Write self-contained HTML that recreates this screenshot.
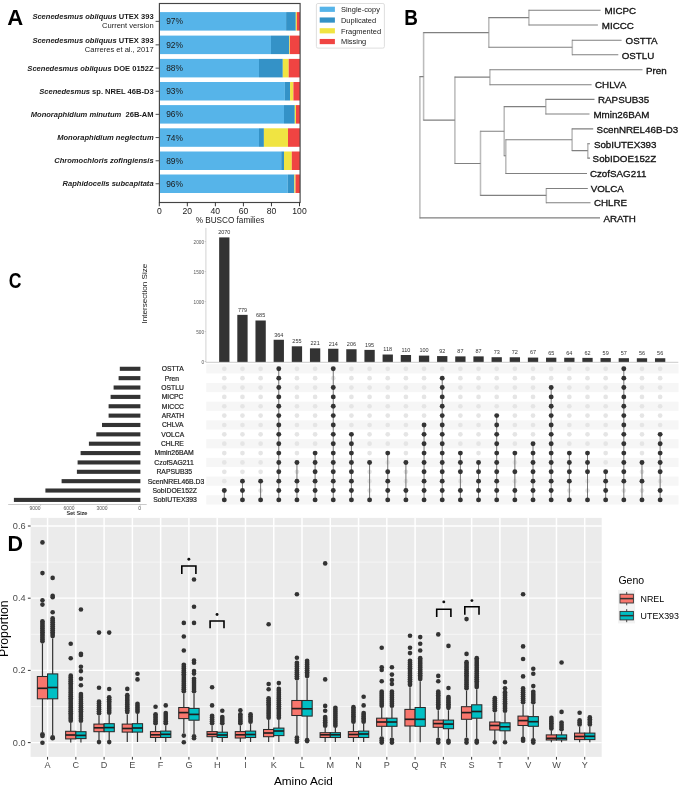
<!DOCTYPE html>
<html><head><meta charset="utf-8"><title>Figure</title>
<style>
html,body{margin:0;padding:0;background:#fff;}
body{width:685px;height:785px;overflow:hidden;}
svg{display:block;font-family:"Liberation Sans", sans-serif;will-change:transform;}
</style></head>
<body>
<svg width="685" height="785" viewBox="0 0 685 785">
<rect width="685" height="785" fill="#fff"/>
<text x="7.35" y="25.10" font-size="22.1" fill="#000" font-weight="bold">A</text>
<rect x="159.8" y="12.10" width="126.30" height="18.5" fill="#56B4E9"/>
<rect x="286.1" y="12.10" width="9.70" height="18.5" fill="#3492C7"/>
<rect x="295.8" y="12.10" width="1.10" height="18.5" fill="#F0E442"/>
<rect x="296.9" y="12.10" width="3.10" height="18.5" fill="#F04442"/>
<text x="166.20" y="24.35" font-size="8.4" fill="#1a1a1a">97%</text>
<line x1="155.6" y1="21.35" x2="159.3" y2="21.35" stroke="#222" stroke-width="0.8"/>
<rect x="159.8" y="35.60" width="111.20" height="18.5" fill="#56B4E9"/>
<rect x="271.0" y="35.60" width="18.20" height="18.5" fill="#3492C7"/>
<rect x="289.2" y="35.60" width="0.70" height="18.5" fill="#F0E442"/>
<rect x="289.9" y="35.60" width="10.10" height="18.5" fill="#F04442"/>
<text x="166.20" y="47.85" font-size="8.4" fill="#1a1a1a">92%</text>
<line x1="155.6" y1="44.85" x2="159.3" y2="44.85" stroke="#222" stroke-width="0.8"/>
<rect x="159.8" y="58.90" width="99.20" height="18.5" fill="#56B4E9"/>
<rect x="259.0" y="58.90" width="23.80" height="18.5" fill="#3492C7"/>
<rect x="282.8" y="58.90" width="5.90" height="18.5" fill="#F0E442"/>
<rect x="288.7" y="58.90" width="11.30" height="18.5" fill="#F04442"/>
<text x="166.20" y="71.15" font-size="8.4" fill="#1a1a1a">88%</text>
<line x1="155.6" y1="68.15" x2="159.3" y2="68.15" stroke="#222" stroke-width="0.8"/>
<rect x="159.8" y="82.00" width="125.10" height="18.5" fill="#56B4E9"/>
<rect x="284.9" y="82.00" width="5.20" height="18.5" fill="#3492C7"/>
<rect x="290.1" y="82.00" width="3.30" height="18.5" fill="#F0E442"/>
<rect x="293.4" y="82.00" width="6.60" height="18.5" fill="#F04442"/>
<text x="166.20" y="94.25" font-size="8.4" fill="#1a1a1a">93%</text>
<line x1="155.6" y1="91.25" x2="159.3" y2="91.25" stroke="#222" stroke-width="0.8"/>
<rect x="159.8" y="105.10" width="124.20" height="18.5" fill="#56B4E9"/>
<rect x="284.0" y="105.10" width="10.80" height="18.5" fill="#3492C7"/>
<rect x="294.8" y="105.10" width="1.20" height="18.5" fill="#F0E442"/>
<rect x="296.0" y="105.10" width="4.00" height="18.5" fill="#F04442"/>
<text x="166.20" y="117.35" font-size="8.4" fill="#1a1a1a">96%</text>
<line x1="155.6" y1="114.35" x2="159.3" y2="114.35" stroke="#222" stroke-width="0.8"/>
<rect x="159.8" y="128.30" width="99.20" height="18.5" fill="#56B4E9"/>
<rect x="259.0" y="128.30" width="4.90" height="18.5" fill="#3492C7"/>
<rect x="263.9" y="128.30" width="24.10" height="18.5" fill="#F0E442"/>
<rect x="288.0" y="128.30" width="12.00" height="18.5" fill="#F04442"/>
<text x="166.20" y="140.55" font-size="8.4" fill="#1a1a1a">74%</text>
<line x1="155.6" y1="137.55" x2="159.3" y2="137.55" stroke="#222" stroke-width="0.8"/>
<rect x="159.8" y="151.50" width="121.40" height="18.5" fill="#56B4E9"/>
<rect x="281.2" y="151.50" width="2.80" height="18.5" fill="#3492C7"/>
<rect x="284.0" y="151.50" width="7.80" height="18.5" fill="#F0E442"/>
<rect x="291.8" y="151.50" width="8.20" height="18.5" fill="#F04442"/>
<text x="166.20" y="163.75" font-size="8.4" fill="#1a1a1a">89%</text>
<line x1="155.6" y1="160.75" x2="159.3" y2="160.75" stroke="#222" stroke-width="0.8"/>
<rect x="159.8" y="174.50" width="128.00" height="18.5" fill="#56B4E9"/>
<rect x="287.8" y="174.50" width="6.60" height="18.5" fill="#3492C7"/>
<rect x="294.4" y="174.50" width="1.10" height="18.5" fill="#F0E442"/>
<rect x="295.5" y="174.50" width="4.50" height="18.5" fill="#F04442"/>
<text x="166.20" y="186.75" font-size="8.4" fill="#1a1a1a">96%</text>
<line x1="155.6" y1="183.75" x2="159.3" y2="183.75" stroke="#222" stroke-width="0.8"/>
<rect x="159.4" y="3.5" width="140.7" height="199.0" fill="none" stroke="#444" stroke-width="1.15"/>
<line x1="159.30" y1="202.5" x2="159.30" y2="206.3" stroke="#222" stroke-width="0.9"/>
<text x="159.30" y="214.20" font-size="8.6" fill="#1a1a1a" text-anchor="middle">0</text>
<line x1="187.34" y1="202.5" x2="187.34" y2="206.3" stroke="#222" stroke-width="0.9"/>
<text x="187.34" y="214.20" font-size="8.6" fill="#1a1a1a" text-anchor="middle">20</text>
<line x1="215.38" y1="202.5" x2="215.38" y2="206.3" stroke="#222" stroke-width="0.9"/>
<text x="215.38" y="214.20" font-size="8.6" fill="#1a1a1a" text-anchor="middle">40</text>
<line x1="243.42" y1="202.5" x2="243.42" y2="206.3" stroke="#222" stroke-width="0.9"/>
<text x="243.42" y="214.20" font-size="8.6" fill="#1a1a1a" text-anchor="middle">60</text>
<line x1="271.46" y1="202.5" x2="271.46" y2="206.3" stroke="#222" stroke-width="0.9"/>
<text x="271.46" y="214.20" font-size="8.6" fill="#1a1a1a" text-anchor="middle">80</text>
<line x1="299.50" y1="202.5" x2="299.50" y2="206.3" stroke="#222" stroke-width="0.9"/>
<text x="299.50" y="214.20" font-size="8.6" fill="#1a1a1a" text-anchor="middle">100</text>
<text x="230.00" y="222.60" font-size="8.2" fill="#1a1a1a" text-anchor="middle">% BUSCO families</text>
<text x="153.6" y="19.00" font-size="7.55" fill="#1a1a1a" text-anchor="end" font-weight="bold" xml:space="preserve"><tspan font-style="italic">Scenedesmus obliquus</tspan> UTEX 393</text>
<text x="153.60" y="28.00" font-size="7.55" fill="#1a1a1a" text-anchor="end">Current version</text>
<text x="153.6" y="43.20" font-size="7.55" fill="#1a1a1a" text-anchor="end" font-weight="bold" xml:space="preserve"><tspan font-style="italic">Scenedesmus obliquus</tspan> UTEX 393</text>
<text x="153.60" y="52.00" font-size="7.55" fill="#1a1a1a" text-anchor="end">Carreres et al., 2017</text>
<text x="153.6" y="70.50" font-size="7.55" fill="#1a1a1a" text-anchor="end" font-weight="bold" xml:space="preserve"><tspan font-style="italic">Scenedesmus obliquus</tspan> DOE 0152Z</text>
<text x="153.6" y="93.60" font-size="7.55" fill="#1a1a1a" text-anchor="end" font-weight="bold" xml:space="preserve"><tspan font-style="italic">Scenedesmus</tspan> sp. NREL 46B-D3</text>
<text x="153.6" y="116.70" font-size="7.55" fill="#1a1a1a" text-anchor="end" font-weight="bold" xml:space="preserve"><tspan font-style="italic">Monoraphidium minutum</tspan>  26B-AM</text>
<text x="153.6" y="139.90" font-size="7.55" fill="#1a1a1a" text-anchor="end" font-weight="bold" xml:space="preserve"><tspan font-style="italic">Monoraphidium neglectum</tspan></text>
<text x="153.6" y="163.10" font-size="7.55" fill="#1a1a1a" text-anchor="end" font-weight="bold" xml:space="preserve"><tspan font-style="italic">Chromochloris zofingiensis</tspan></text>
<text x="153.6" y="186.10" font-size="7.55" fill="#1a1a1a" text-anchor="end" font-weight="bold" xml:space="preserve"><tspan font-style="italic">Raphidocelis subcapitata</tspan></text>
<rect x="316.4" y="3.5" width="68" height="44.6" rx="1.5" fill="#fff" stroke="#d6d6d6" stroke-width="0.8"/>
<rect x="319.7" y="6.70" width="15.2" height="5.2" fill="#56B4E9"/>
<text x="341.00" y="12.00" font-size="7.45" fill="#1a1a1a">Single-copy</text>
<rect x="319.7" y="17.45" width="15.2" height="5.2" fill="#3492C7"/>
<text x="341.00" y="22.75" font-size="7.45" fill="#1a1a1a">Duplicated</text>
<rect x="319.7" y="28.20" width="15.2" height="5.2" fill="#F0E442"/>
<text x="341.00" y="33.50" font-size="7.45" fill="#1a1a1a">Fragmented</text>
<rect x="319.7" y="38.95" width="15.2" height="5.2" fill="#F04442"/>
<text x="341.00" y="44.25" font-size="7.45" fill="#1a1a1a">Missing</text>
<text x="0" y="0" font-size="22.5" font-weight="bold" fill="#000" transform="translate(404.3 25.1) scale(0.84 1)">B</text>
<path d="M419.9 76.1V218.4 M423.6 32.1V120.6 M488.8 17.1V47.8 M528.9 9.8V25.5 M572.3 39.8V55.3 M454.9 76.6V164.0 M489.9 69.3V85.2 M480.5 130.8V195.9 M546.3 188.0V203.2 M504.2 106.1V156.3 M545.8 98.9V114.5 M505.8 139.3V174.0 M572.1 128.4V151.1 M587.8 143.3V158.6" stroke="#bcbcbc" stroke-width="1.55" fill="none"/>
<path d="M419.59999999999997 76.6H423.6 M419.59999999999997 217.9H600.0 M423.3 32.6H488.8 M423.3 120.1H454.9 M488.5 17.6H528.9 M488.5 47.3H572.3 M528.6 10.3H600.6 M528.6 25.0H597.9 M572.0 40.3H621.6 M572.0 54.8H618.3 M454.59999999999997 77.1H489.9 M454.59999999999997 163.5H480.5 M489.59999999999997 69.8H642.5 M489.59999999999997 84.7H591.6 M480.2 131.3H504.2 M480.2 195.4H546.3 M546.0 188.5H587.8 M546.0 202.7H590.5 M503.9 106.6H545.8 M503.9 155.8H505.8 M545.5 99.4H594.5 M545.5 114.0H589.5 M505.5 139.8H572.1 M505.5 173.5H587.0 M571.8000000000001 128.9H593.2 M571.8000000000001 150.6H587.8 M587.5 143.8H590.0 M587.5 158.1H590.0" stroke="#808080" stroke-width="1.1" fill="none"/>
<text x="604.50" y="14.00" font-size="9.8" fill="#111" stroke="#111" stroke-width="0.3">MICPC</text>
<text x="601.80" y="28.70" font-size="9.8" fill="#111" stroke="#111" stroke-width="0.3">MICCC</text>
<text x="625.60" y="44.00" font-size="9.8" fill="#111" stroke="#111" stroke-width="0.3">OSTTA</text>
<text x="621.70" y="58.50" font-size="9.8" fill="#111" stroke="#111" stroke-width="0.3">OSTLU</text>
<text x="645.90" y="73.50" font-size="9.8" fill="#111" stroke="#111" stroke-width="0.3">Pren</text>
<text x="595.00" y="88.40" font-size="9.8" fill="#111" stroke="#111" stroke-width="0.3">CHLVA</text>
<text x="598.00" y="103.10" font-size="9.8" fill="#111" stroke="#111" stroke-width="0.3">RAPSUB35</text>
<text x="593.40" y="117.70" font-size="9.8" fill="#111" stroke="#111" stroke-width="0.3">Mmin26BAM</text>
<text x="596.60" y="132.60" font-size="9.8" fill="#111" stroke="#111" stroke-width="0.3">ScenNREL46B-D3</text>
<text x="593.90" y="147.50" font-size="9.8" fill="#111" stroke="#111" stroke-width="0.3">SobIUTEX393</text>
<text x="592.60" y="161.80" font-size="9.8" fill="#111" stroke="#111" stroke-width="0.3">SobIDOE152Z</text>
<text x="589.90" y="177.20" font-size="9.8" fill="#111" stroke="#111" stroke-width="0.3">CzofSAG211</text>
<text x="590.70" y="192.20" font-size="9.8" fill="#111" stroke="#111" stroke-width="0.3">VOLCA</text>
<text x="593.90" y="206.40" font-size="9.8" fill="#111" stroke="#111" stroke-width="0.3">CHLRE</text>
<text x="603.40" y="221.60" font-size="9.8" fill="#111" stroke="#111" stroke-width="0.3">ARATH</text>
<text x="0" y="0" font-size="22.6" font-weight="bold" fill="#000" transform="translate(8.7 288.1) scale(0.78 1)">C</text>
<line x1="205.9" y1="227.9" x2="205.9" y2="362.0" stroke="#c8c8c8" stroke-width="0.8"/>
<line x1="204.6" y1="361.60" x2="205.9" y2="361.60" stroke="#aaa" stroke-width="0.6"/>
<text x="0" y="0" font-size="5.6" fill="#555" text-anchor="end" transform="translate(204.00 363.55) scale(0.84 1)">0</text>
<line x1="204.6" y1="331.60" x2="205.9" y2="331.60" stroke="#aaa" stroke-width="0.6"/>
<text x="0" y="0" font-size="5.6" fill="#555" text-anchor="end" transform="translate(204.00 333.55) scale(0.84 1)">500</text>
<line x1="204.6" y1="301.60" x2="205.9" y2="301.60" stroke="#aaa" stroke-width="0.6"/>
<text x="0" y="0" font-size="5.6" fill="#555" text-anchor="end" transform="translate(204.00 303.55) scale(0.84 1)">1000</text>
<line x1="204.6" y1="271.60" x2="205.9" y2="271.60" stroke="#aaa" stroke-width="0.6"/>
<text x="0" y="0" font-size="5.6" fill="#555" text-anchor="end" transform="translate(204.00 273.55) scale(0.84 1)">1500</text>
<line x1="204.6" y1="241.60" x2="205.9" y2="241.60" stroke="#aaa" stroke-width="0.6"/>
<text x="0" y="0" font-size="5.6" fill="#555" text-anchor="end" transform="translate(204.00 243.55) scale(0.84 1)">2000</text>
<text x="0" y="0" font-size="8.1" fill="#222" text-anchor="middle" transform="translate(147.4 293.6) rotate(-90)">Intersection Size</text>
<rect x="219.15" y="237.40" width="10.3" height="124.70" fill="#333"/>
<text x="0" y="0" font-size="6.1" fill="#333" text-anchor="middle" transform="translate(224.30 234.20) scale(0.9 1)">2070</text>
<rect x="237.31" y="314.86" width="10.3" height="47.24" fill="#333"/>
<text x="0" y="0" font-size="6.1" fill="#333" text-anchor="middle" transform="translate(242.46 311.66) scale(0.9 1)">779</text>
<rect x="255.47" y="320.50" width="10.3" height="41.60" fill="#333"/>
<text x="0" y="0" font-size="6.1" fill="#333" text-anchor="middle" transform="translate(260.62 317.30) scale(0.9 1)">685</text>
<rect x="273.63" y="339.76" width="10.3" height="22.34" fill="#333"/>
<text x="0" y="0" font-size="6.1" fill="#333" text-anchor="middle" transform="translate(278.78 336.56) scale(0.9 1)">364</text>
<rect x="291.79" y="346.30" width="10.3" height="15.80" fill="#333"/>
<text x="0" y="0" font-size="6.1" fill="#333" text-anchor="middle" transform="translate(296.94 343.10) scale(0.9 1)">255</text>
<rect x="309.95" y="348.34" width="10.3" height="13.76" fill="#333"/>
<text x="0" y="0" font-size="6.1" fill="#333" text-anchor="middle" transform="translate(315.10 345.14) scale(0.9 1)">221</text>
<rect x="328.11" y="348.76" width="10.3" height="13.34" fill="#333"/>
<text x="0" y="0" font-size="6.1" fill="#333" text-anchor="middle" transform="translate(333.26 345.56) scale(0.9 1)">214</text>
<rect x="346.27" y="349.24" width="10.3" height="12.86" fill="#333"/>
<text x="0" y="0" font-size="6.1" fill="#333" text-anchor="middle" transform="translate(351.42 346.04) scale(0.9 1)">206</text>
<rect x="364.43" y="349.90" width="10.3" height="12.20" fill="#333"/>
<text x="0" y="0" font-size="6.1" fill="#333" text-anchor="middle" transform="translate(369.58 346.70) scale(0.9 1)">195</text>
<rect x="382.59" y="354.52" width="10.3" height="7.58" fill="#333"/>
<text x="0" y="0" font-size="6.1" fill="#333" text-anchor="middle" transform="translate(387.74 351.32) scale(0.9 1)">118</text>
<rect x="400.75" y="355.00" width="10.3" height="7.10" fill="#333"/>
<text x="0" y="0" font-size="6.1" fill="#333" text-anchor="middle" transform="translate(405.90 351.80) scale(0.9 1)">110</text>
<rect x="418.91" y="355.60" width="10.3" height="6.50" fill="#333"/>
<text x="0" y="0" font-size="6.1" fill="#333" text-anchor="middle" transform="translate(424.06 352.40) scale(0.9 1)">100</text>
<rect x="437.07" y="356.08" width="10.3" height="6.02" fill="#333"/>
<text x="0" y="0" font-size="6.1" fill="#333" text-anchor="middle" transform="translate(442.22 352.88) scale(0.9 1)">92</text>
<rect x="455.23" y="356.38" width="10.3" height="5.72" fill="#333"/>
<text x="0" y="0" font-size="6.1" fill="#333" text-anchor="middle" transform="translate(460.38 353.18) scale(0.9 1)">87</text>
<rect x="473.39" y="356.38" width="10.3" height="5.72" fill="#333"/>
<text x="0" y="0" font-size="6.1" fill="#333" text-anchor="middle" transform="translate(478.54 353.18) scale(0.9 1)">87</text>
<rect x="491.55" y="357.22" width="10.3" height="4.88" fill="#333"/>
<text x="0" y="0" font-size="6.1" fill="#333" text-anchor="middle" transform="translate(496.70 354.02) scale(0.9 1)">73</text>
<rect x="509.71" y="357.28" width="10.3" height="4.82" fill="#333"/>
<text x="0" y="0" font-size="6.1" fill="#333" text-anchor="middle" transform="translate(514.86 354.08) scale(0.9 1)">72</text>
<rect x="527.87" y="357.58" width="10.3" height="4.52" fill="#333"/>
<text x="0" y="0" font-size="6.1" fill="#333" text-anchor="middle" transform="translate(533.02 354.38) scale(0.9 1)">67</text>
<rect x="546.03" y="357.70" width="10.3" height="4.40" fill="#333"/>
<text x="0" y="0" font-size="6.1" fill="#333" text-anchor="middle" transform="translate(551.18 354.50) scale(0.9 1)">65</text>
<rect x="564.19" y="357.76" width="10.3" height="4.34" fill="#333"/>
<text x="0" y="0" font-size="6.1" fill="#333" text-anchor="middle" transform="translate(569.34 354.56) scale(0.9 1)">64</text>
<rect x="582.35" y="357.88" width="10.3" height="4.22" fill="#333"/>
<text x="0" y="0" font-size="6.1" fill="#333" text-anchor="middle" transform="translate(587.50 354.68) scale(0.9 1)">62</text>
<rect x="600.51" y="358.06" width="10.3" height="4.04" fill="#333"/>
<text x="0" y="0" font-size="6.1" fill="#333" text-anchor="middle" transform="translate(605.66 354.86) scale(0.9 1)">59</text>
<rect x="618.67" y="358.18" width="10.3" height="3.92" fill="#333"/>
<text x="0" y="0" font-size="6.1" fill="#333" text-anchor="middle" transform="translate(623.82 354.98) scale(0.9 1)">57</text>
<rect x="636.83" y="358.24" width="10.3" height="3.86" fill="#333"/>
<text x="0" y="0" font-size="6.1" fill="#333" text-anchor="middle" transform="translate(641.98 355.04) scale(0.9 1)">56</text>
<rect x="654.99" y="358.24" width="10.3" height="3.86" fill="#333"/>
<text x="0" y="0" font-size="6.1" fill="#333" text-anchor="middle" transform="translate(660.14 355.04) scale(0.9 1)">56</text>
<line x1="205.9" y1="362.3" x2="678.3" y2="362.3" stroke="#bdbdbd" stroke-width="0.8"/>
<rect x="206.3" y="364.20" width="472.2" height="9.2" fill="#f6f6f6"/>
<rect x="206.3" y="382.93" width="472.2" height="9.2" fill="#f6f6f6"/>
<rect x="206.3" y="401.66" width="472.2" height="9.2" fill="#f6f6f6"/>
<rect x="206.3" y="420.38" width="472.2" height="9.2" fill="#f6f6f6"/>
<rect x="206.3" y="439.11" width="472.2" height="9.2" fill="#f6f6f6"/>
<rect x="206.3" y="457.84" width="472.2" height="9.2" fill="#f6f6f6"/>
<rect x="206.3" y="476.57" width="472.2" height="9.2" fill="#f6f6f6"/>
<rect x="206.3" y="495.30" width="472.2" height="9.2" fill="#f6f6f6"/>
<circle cx="224.30" cy="368.80" r="2.35" fill="#e5e5e5"/>
<circle cx="224.30" cy="378.16" r="2.35" fill="#e5e5e5"/>
<circle cx="224.30" cy="387.53" r="2.35" fill="#e5e5e5"/>
<circle cx="224.30" cy="396.89" r="2.35" fill="#e5e5e5"/>
<circle cx="224.30" cy="406.26" r="2.35" fill="#e5e5e5"/>
<circle cx="224.30" cy="415.62" r="2.35" fill="#e5e5e5"/>
<circle cx="224.30" cy="424.98" r="2.35" fill="#e5e5e5"/>
<circle cx="224.30" cy="434.35" r="2.35" fill="#e5e5e5"/>
<circle cx="224.30" cy="443.71" r="2.35" fill="#e5e5e5"/>
<circle cx="224.30" cy="453.08" r="2.35" fill="#e5e5e5"/>
<circle cx="224.30" cy="462.44" r="2.35" fill="#e5e5e5"/>
<circle cx="224.30" cy="471.80" r="2.35" fill="#e5e5e5"/>
<circle cx="224.30" cy="481.17" r="2.35" fill="#e5e5e5"/>
<line x1="224.30" y1="490.53" x2="224.30" y2="499.90" stroke="#555" stroke-width="0.8"/>
<circle cx="224.30" cy="490.53" r="2.45" fill="#333"/>
<circle cx="224.30" cy="499.90" r="2.45" fill="#333"/>
<circle cx="242.46" cy="368.80" r="2.35" fill="#e5e5e5"/>
<circle cx="242.46" cy="378.16" r="2.35" fill="#e5e5e5"/>
<circle cx="242.46" cy="387.53" r="2.35" fill="#e5e5e5"/>
<circle cx="242.46" cy="396.89" r="2.35" fill="#e5e5e5"/>
<circle cx="242.46" cy="406.26" r="2.35" fill="#e5e5e5"/>
<circle cx="242.46" cy="415.62" r="2.35" fill="#e5e5e5"/>
<circle cx="242.46" cy="424.98" r="2.35" fill="#e5e5e5"/>
<circle cx="242.46" cy="434.35" r="2.35" fill="#e5e5e5"/>
<circle cx="242.46" cy="443.71" r="2.35" fill="#e5e5e5"/>
<circle cx="242.46" cy="453.08" r="2.35" fill="#e5e5e5"/>
<circle cx="242.46" cy="462.44" r="2.35" fill="#e5e5e5"/>
<circle cx="242.46" cy="471.80" r="2.35" fill="#e5e5e5"/>
<line x1="242.46" y1="481.17" x2="242.46" y2="499.90" stroke="#555" stroke-width="0.8"/>
<circle cx="242.46" cy="481.17" r="2.45" fill="#333"/>
<circle cx="242.46" cy="490.53" r="2.45" fill="#333"/>
<circle cx="242.46" cy="499.90" r="2.45" fill="#333"/>
<circle cx="260.62" cy="368.80" r="2.35" fill="#e5e5e5"/>
<circle cx="260.62" cy="378.16" r="2.35" fill="#e5e5e5"/>
<circle cx="260.62" cy="387.53" r="2.35" fill="#e5e5e5"/>
<circle cx="260.62" cy="396.89" r="2.35" fill="#e5e5e5"/>
<circle cx="260.62" cy="406.26" r="2.35" fill="#e5e5e5"/>
<circle cx="260.62" cy="415.62" r="2.35" fill="#e5e5e5"/>
<circle cx="260.62" cy="424.98" r="2.35" fill="#e5e5e5"/>
<circle cx="260.62" cy="434.35" r="2.35" fill="#e5e5e5"/>
<circle cx="260.62" cy="443.71" r="2.35" fill="#e5e5e5"/>
<circle cx="260.62" cy="453.08" r="2.35" fill="#e5e5e5"/>
<circle cx="260.62" cy="462.44" r="2.35" fill="#e5e5e5"/>
<circle cx="260.62" cy="471.80" r="2.35" fill="#e5e5e5"/>
<circle cx="260.62" cy="490.53" r="2.35" fill="#e5e5e5"/>
<line x1="260.62" y1="481.17" x2="260.62" y2="499.90" stroke="#555" stroke-width="0.8"/>
<circle cx="260.62" cy="481.17" r="2.45" fill="#333"/>
<circle cx="260.62" cy="499.90" r="2.45" fill="#333"/>
<line x1="278.78" y1="368.80" x2="278.78" y2="499.90" stroke="#555" stroke-width="0.8"/>
<circle cx="278.78" cy="368.80" r="2.45" fill="#333"/>
<circle cx="278.78" cy="378.16" r="2.45" fill="#333"/>
<circle cx="278.78" cy="387.53" r="2.45" fill="#333"/>
<circle cx="278.78" cy="396.89" r="2.45" fill="#333"/>
<circle cx="278.78" cy="406.26" r="2.45" fill="#333"/>
<circle cx="278.78" cy="415.62" r="2.45" fill="#333"/>
<circle cx="278.78" cy="424.98" r="2.45" fill="#333"/>
<circle cx="278.78" cy="434.35" r="2.45" fill="#333"/>
<circle cx="278.78" cy="443.71" r="2.45" fill="#333"/>
<circle cx="278.78" cy="453.08" r="2.45" fill="#333"/>
<circle cx="278.78" cy="462.44" r="2.45" fill="#333"/>
<circle cx="278.78" cy="471.80" r="2.45" fill="#333"/>
<circle cx="278.78" cy="481.17" r="2.45" fill="#333"/>
<circle cx="278.78" cy="490.53" r="2.45" fill="#333"/>
<circle cx="278.78" cy="499.90" r="2.45" fill="#333"/>
<circle cx="296.94" cy="368.80" r="2.35" fill="#e5e5e5"/>
<circle cx="296.94" cy="378.16" r="2.35" fill="#e5e5e5"/>
<circle cx="296.94" cy="387.53" r="2.35" fill="#e5e5e5"/>
<circle cx="296.94" cy="396.89" r="2.35" fill="#e5e5e5"/>
<circle cx="296.94" cy="406.26" r="2.35" fill="#e5e5e5"/>
<circle cx="296.94" cy="415.62" r="2.35" fill="#e5e5e5"/>
<circle cx="296.94" cy="424.98" r="2.35" fill="#e5e5e5"/>
<circle cx="296.94" cy="434.35" r="2.35" fill="#e5e5e5"/>
<circle cx="296.94" cy="443.71" r="2.35" fill="#e5e5e5"/>
<circle cx="296.94" cy="453.08" r="2.35" fill="#e5e5e5"/>
<circle cx="296.94" cy="471.80" r="2.35" fill="#e5e5e5"/>
<line x1="296.94" y1="462.44" x2="296.94" y2="499.90" stroke="#555" stroke-width="0.8"/>
<circle cx="296.94" cy="462.44" r="2.45" fill="#333"/>
<circle cx="296.94" cy="481.17" r="2.45" fill="#333"/>
<circle cx="296.94" cy="490.53" r="2.45" fill="#333"/>
<circle cx="296.94" cy="499.90" r="2.45" fill="#333"/>
<circle cx="315.10" cy="368.80" r="2.35" fill="#e5e5e5"/>
<circle cx="315.10" cy="378.16" r="2.35" fill="#e5e5e5"/>
<circle cx="315.10" cy="387.53" r="2.35" fill="#e5e5e5"/>
<circle cx="315.10" cy="396.89" r="2.35" fill="#e5e5e5"/>
<circle cx="315.10" cy="406.26" r="2.35" fill="#e5e5e5"/>
<circle cx="315.10" cy="415.62" r="2.35" fill="#e5e5e5"/>
<circle cx="315.10" cy="424.98" r="2.35" fill="#e5e5e5"/>
<circle cx="315.10" cy="434.35" r="2.35" fill="#e5e5e5"/>
<circle cx="315.10" cy="443.71" r="2.35" fill="#e5e5e5"/>
<line x1="315.10" y1="453.08" x2="315.10" y2="499.90" stroke="#555" stroke-width="0.8"/>
<circle cx="315.10" cy="453.08" r="2.45" fill="#333"/>
<circle cx="315.10" cy="462.44" r="2.45" fill="#333"/>
<circle cx="315.10" cy="471.80" r="2.45" fill="#333"/>
<circle cx="315.10" cy="481.17" r="2.45" fill="#333"/>
<circle cx="315.10" cy="490.53" r="2.45" fill="#333"/>
<circle cx="315.10" cy="499.90" r="2.45" fill="#333"/>
<circle cx="333.26" cy="378.16" r="2.35" fill="#e5e5e5"/>
<line x1="333.26" y1="368.80" x2="333.26" y2="499.90" stroke="#555" stroke-width="0.8"/>
<circle cx="333.26" cy="368.80" r="2.45" fill="#333"/>
<circle cx="333.26" cy="387.53" r="2.45" fill="#333"/>
<circle cx="333.26" cy="396.89" r="2.45" fill="#333"/>
<circle cx="333.26" cy="406.26" r="2.45" fill="#333"/>
<circle cx="333.26" cy="415.62" r="2.45" fill="#333"/>
<circle cx="333.26" cy="424.98" r="2.45" fill="#333"/>
<circle cx="333.26" cy="434.35" r="2.45" fill="#333"/>
<circle cx="333.26" cy="443.71" r="2.45" fill="#333"/>
<circle cx="333.26" cy="453.08" r="2.45" fill="#333"/>
<circle cx="333.26" cy="462.44" r="2.45" fill="#333"/>
<circle cx="333.26" cy="471.80" r="2.45" fill="#333"/>
<circle cx="333.26" cy="481.17" r="2.45" fill="#333"/>
<circle cx="333.26" cy="490.53" r="2.45" fill="#333"/>
<circle cx="333.26" cy="499.90" r="2.45" fill="#333"/>
<circle cx="351.42" cy="368.80" r="2.35" fill="#e5e5e5"/>
<circle cx="351.42" cy="378.16" r="2.35" fill="#e5e5e5"/>
<circle cx="351.42" cy="387.53" r="2.35" fill="#e5e5e5"/>
<circle cx="351.42" cy="396.89" r="2.35" fill="#e5e5e5"/>
<circle cx="351.42" cy="406.26" r="2.35" fill="#e5e5e5"/>
<circle cx="351.42" cy="415.62" r="2.35" fill="#e5e5e5"/>
<circle cx="351.42" cy="424.98" r="2.35" fill="#e5e5e5"/>
<line x1="351.42" y1="434.35" x2="351.42" y2="499.90" stroke="#555" stroke-width="0.8"/>
<circle cx="351.42" cy="434.35" r="2.45" fill="#333"/>
<circle cx="351.42" cy="443.71" r="2.45" fill="#333"/>
<circle cx="351.42" cy="453.08" r="2.45" fill="#333"/>
<circle cx="351.42" cy="462.44" r="2.45" fill="#333"/>
<circle cx="351.42" cy="471.80" r="2.45" fill="#333"/>
<circle cx="351.42" cy="481.17" r="2.45" fill="#333"/>
<circle cx="351.42" cy="490.53" r="2.45" fill="#333"/>
<circle cx="351.42" cy="499.90" r="2.45" fill="#333"/>
<circle cx="369.58" cy="368.80" r="2.35" fill="#e5e5e5"/>
<circle cx="369.58" cy="378.16" r="2.35" fill="#e5e5e5"/>
<circle cx="369.58" cy="387.53" r="2.35" fill="#e5e5e5"/>
<circle cx="369.58" cy="396.89" r="2.35" fill="#e5e5e5"/>
<circle cx="369.58" cy="406.26" r="2.35" fill="#e5e5e5"/>
<circle cx="369.58" cy="415.62" r="2.35" fill="#e5e5e5"/>
<circle cx="369.58" cy="424.98" r="2.35" fill="#e5e5e5"/>
<circle cx="369.58" cy="434.35" r="2.35" fill="#e5e5e5"/>
<circle cx="369.58" cy="443.71" r="2.35" fill="#e5e5e5"/>
<circle cx="369.58" cy="453.08" r="2.35" fill="#e5e5e5"/>
<circle cx="369.58" cy="471.80" r="2.35" fill="#e5e5e5"/>
<circle cx="369.58" cy="481.17" r="2.35" fill="#e5e5e5"/>
<circle cx="369.58" cy="490.53" r="2.35" fill="#e5e5e5"/>
<line x1="369.58" y1="462.44" x2="369.58" y2="499.90" stroke="#555" stroke-width="0.8"/>
<circle cx="369.58" cy="462.44" r="2.45" fill="#333"/>
<circle cx="369.58" cy="499.90" r="2.45" fill="#333"/>
<circle cx="387.74" cy="368.80" r="2.35" fill="#e5e5e5"/>
<circle cx="387.74" cy="378.16" r="2.35" fill="#e5e5e5"/>
<circle cx="387.74" cy="387.53" r="2.35" fill="#e5e5e5"/>
<circle cx="387.74" cy="396.89" r="2.35" fill="#e5e5e5"/>
<circle cx="387.74" cy="406.26" r="2.35" fill="#e5e5e5"/>
<circle cx="387.74" cy="415.62" r="2.35" fill="#e5e5e5"/>
<circle cx="387.74" cy="424.98" r="2.35" fill="#e5e5e5"/>
<circle cx="387.74" cy="434.35" r="2.35" fill="#e5e5e5"/>
<circle cx="387.74" cy="443.71" r="2.35" fill="#e5e5e5"/>
<circle cx="387.74" cy="462.44" r="2.35" fill="#e5e5e5"/>
<line x1="387.74" y1="453.08" x2="387.74" y2="499.90" stroke="#555" stroke-width="0.8"/>
<circle cx="387.74" cy="453.08" r="2.45" fill="#333"/>
<circle cx="387.74" cy="471.80" r="2.45" fill="#333"/>
<circle cx="387.74" cy="481.17" r="2.45" fill="#333"/>
<circle cx="387.74" cy="490.53" r="2.45" fill="#333"/>
<circle cx="387.74" cy="499.90" r="2.45" fill="#333"/>
<circle cx="405.90" cy="368.80" r="2.35" fill="#e5e5e5"/>
<circle cx="405.90" cy="378.16" r="2.35" fill="#e5e5e5"/>
<circle cx="405.90" cy="387.53" r="2.35" fill="#e5e5e5"/>
<circle cx="405.90" cy="396.89" r="2.35" fill="#e5e5e5"/>
<circle cx="405.90" cy="406.26" r="2.35" fill="#e5e5e5"/>
<circle cx="405.90" cy="415.62" r="2.35" fill="#e5e5e5"/>
<circle cx="405.90" cy="424.98" r="2.35" fill="#e5e5e5"/>
<circle cx="405.90" cy="434.35" r="2.35" fill="#e5e5e5"/>
<circle cx="405.90" cy="443.71" r="2.35" fill="#e5e5e5"/>
<circle cx="405.90" cy="453.08" r="2.35" fill="#e5e5e5"/>
<circle cx="405.90" cy="471.80" r="2.35" fill="#e5e5e5"/>
<circle cx="405.90" cy="481.17" r="2.35" fill="#e5e5e5"/>
<line x1="405.90" y1="462.44" x2="405.90" y2="499.90" stroke="#555" stroke-width="0.8"/>
<circle cx="405.90" cy="462.44" r="2.45" fill="#333"/>
<circle cx="405.90" cy="490.53" r="2.45" fill="#333"/>
<circle cx="405.90" cy="499.90" r="2.45" fill="#333"/>
<circle cx="424.06" cy="368.80" r="2.35" fill="#e5e5e5"/>
<circle cx="424.06" cy="378.16" r="2.35" fill="#e5e5e5"/>
<circle cx="424.06" cy="387.53" r="2.35" fill="#e5e5e5"/>
<circle cx="424.06" cy="396.89" r="2.35" fill="#e5e5e5"/>
<circle cx="424.06" cy="406.26" r="2.35" fill="#e5e5e5"/>
<circle cx="424.06" cy="415.62" r="2.35" fill="#e5e5e5"/>
<line x1="424.06" y1="424.98" x2="424.06" y2="499.90" stroke="#555" stroke-width="0.8"/>
<circle cx="424.06" cy="424.98" r="2.45" fill="#333"/>
<circle cx="424.06" cy="434.35" r="2.45" fill="#333"/>
<circle cx="424.06" cy="443.71" r="2.45" fill="#333"/>
<circle cx="424.06" cy="453.08" r="2.45" fill="#333"/>
<circle cx="424.06" cy="462.44" r="2.45" fill="#333"/>
<circle cx="424.06" cy="471.80" r="2.45" fill="#333"/>
<circle cx="424.06" cy="481.17" r="2.45" fill="#333"/>
<circle cx="424.06" cy="490.53" r="2.45" fill="#333"/>
<circle cx="424.06" cy="499.90" r="2.45" fill="#333"/>
<circle cx="442.22" cy="368.80" r="2.35" fill="#e5e5e5"/>
<line x1="442.22" y1="378.16" x2="442.22" y2="499.90" stroke="#555" stroke-width="0.8"/>
<circle cx="442.22" cy="378.16" r="2.45" fill="#333"/>
<circle cx="442.22" cy="387.53" r="2.45" fill="#333"/>
<circle cx="442.22" cy="396.89" r="2.45" fill="#333"/>
<circle cx="442.22" cy="406.26" r="2.45" fill="#333"/>
<circle cx="442.22" cy="415.62" r="2.45" fill="#333"/>
<circle cx="442.22" cy="424.98" r="2.45" fill="#333"/>
<circle cx="442.22" cy="434.35" r="2.45" fill="#333"/>
<circle cx="442.22" cy="443.71" r="2.45" fill="#333"/>
<circle cx="442.22" cy="453.08" r="2.45" fill="#333"/>
<circle cx="442.22" cy="462.44" r="2.45" fill="#333"/>
<circle cx="442.22" cy="471.80" r="2.45" fill="#333"/>
<circle cx="442.22" cy="481.17" r="2.45" fill="#333"/>
<circle cx="442.22" cy="490.53" r="2.45" fill="#333"/>
<circle cx="442.22" cy="499.90" r="2.45" fill="#333"/>
<circle cx="460.38" cy="368.80" r="2.35" fill="#e5e5e5"/>
<circle cx="460.38" cy="378.16" r="2.35" fill="#e5e5e5"/>
<circle cx="460.38" cy="387.53" r="2.35" fill="#e5e5e5"/>
<circle cx="460.38" cy="396.89" r="2.35" fill="#e5e5e5"/>
<circle cx="460.38" cy="406.26" r="2.35" fill="#e5e5e5"/>
<circle cx="460.38" cy="415.62" r="2.35" fill="#e5e5e5"/>
<circle cx="460.38" cy="424.98" r="2.35" fill="#e5e5e5"/>
<circle cx="460.38" cy="434.35" r="2.35" fill="#e5e5e5"/>
<circle cx="460.38" cy="443.71" r="2.35" fill="#e5e5e5"/>
<circle cx="460.38" cy="481.17" r="2.35" fill="#e5e5e5"/>
<line x1="460.38" y1="453.08" x2="460.38" y2="499.90" stroke="#555" stroke-width="0.8"/>
<circle cx="460.38" cy="453.08" r="2.45" fill="#333"/>
<circle cx="460.38" cy="462.44" r="2.45" fill="#333"/>
<circle cx="460.38" cy="471.80" r="2.45" fill="#333"/>
<circle cx="460.38" cy="490.53" r="2.45" fill="#333"/>
<circle cx="460.38" cy="499.90" r="2.45" fill="#333"/>
<circle cx="478.54" cy="368.80" r="2.35" fill="#e5e5e5"/>
<circle cx="478.54" cy="378.16" r="2.35" fill="#e5e5e5"/>
<circle cx="478.54" cy="387.53" r="2.35" fill="#e5e5e5"/>
<circle cx="478.54" cy="396.89" r="2.35" fill="#e5e5e5"/>
<circle cx="478.54" cy="406.26" r="2.35" fill="#e5e5e5"/>
<circle cx="478.54" cy="415.62" r="2.35" fill="#e5e5e5"/>
<circle cx="478.54" cy="424.98" r="2.35" fill="#e5e5e5"/>
<circle cx="478.54" cy="434.35" r="2.35" fill="#e5e5e5"/>
<circle cx="478.54" cy="443.71" r="2.35" fill="#e5e5e5"/>
<circle cx="478.54" cy="453.08" r="2.35" fill="#e5e5e5"/>
<line x1="478.54" y1="462.44" x2="478.54" y2="499.90" stroke="#555" stroke-width="0.8"/>
<circle cx="478.54" cy="462.44" r="2.45" fill="#333"/>
<circle cx="478.54" cy="471.80" r="2.45" fill="#333"/>
<circle cx="478.54" cy="481.17" r="2.45" fill="#333"/>
<circle cx="478.54" cy="490.53" r="2.45" fill="#333"/>
<circle cx="478.54" cy="499.90" r="2.45" fill="#333"/>
<circle cx="496.70" cy="368.80" r="2.35" fill="#e5e5e5"/>
<circle cx="496.70" cy="378.16" r="2.35" fill="#e5e5e5"/>
<circle cx="496.70" cy="387.53" r="2.35" fill="#e5e5e5"/>
<circle cx="496.70" cy="396.89" r="2.35" fill="#e5e5e5"/>
<circle cx="496.70" cy="406.26" r="2.35" fill="#e5e5e5"/>
<line x1="496.70" y1="415.62" x2="496.70" y2="499.90" stroke="#555" stroke-width="0.8"/>
<circle cx="496.70" cy="415.62" r="2.45" fill="#333"/>
<circle cx="496.70" cy="424.98" r="2.45" fill="#333"/>
<circle cx="496.70" cy="434.35" r="2.45" fill="#333"/>
<circle cx="496.70" cy="443.71" r="2.45" fill="#333"/>
<circle cx="496.70" cy="453.08" r="2.45" fill="#333"/>
<circle cx="496.70" cy="462.44" r="2.45" fill="#333"/>
<circle cx="496.70" cy="471.80" r="2.45" fill="#333"/>
<circle cx="496.70" cy="481.17" r="2.45" fill="#333"/>
<circle cx="496.70" cy="490.53" r="2.45" fill="#333"/>
<circle cx="496.70" cy="499.90" r="2.45" fill="#333"/>
<circle cx="514.86" cy="368.80" r="2.35" fill="#e5e5e5"/>
<circle cx="514.86" cy="378.16" r="2.35" fill="#e5e5e5"/>
<circle cx="514.86" cy="387.53" r="2.35" fill="#e5e5e5"/>
<circle cx="514.86" cy="396.89" r="2.35" fill="#e5e5e5"/>
<circle cx="514.86" cy="406.26" r="2.35" fill="#e5e5e5"/>
<circle cx="514.86" cy="415.62" r="2.35" fill="#e5e5e5"/>
<circle cx="514.86" cy="424.98" r="2.35" fill="#e5e5e5"/>
<circle cx="514.86" cy="434.35" r="2.35" fill="#e5e5e5"/>
<circle cx="514.86" cy="443.71" r="2.35" fill="#e5e5e5"/>
<circle cx="514.86" cy="462.44" r="2.35" fill="#e5e5e5"/>
<circle cx="514.86" cy="481.17" r="2.35" fill="#e5e5e5"/>
<line x1="514.86" y1="453.08" x2="514.86" y2="499.90" stroke="#555" stroke-width="0.8"/>
<circle cx="514.86" cy="453.08" r="2.45" fill="#333"/>
<circle cx="514.86" cy="471.80" r="2.45" fill="#333"/>
<circle cx="514.86" cy="490.53" r="2.45" fill="#333"/>
<circle cx="514.86" cy="499.90" r="2.45" fill="#333"/>
<circle cx="533.02" cy="368.80" r="2.35" fill="#e5e5e5"/>
<circle cx="533.02" cy="378.16" r="2.35" fill="#e5e5e5"/>
<circle cx="533.02" cy="387.53" r="2.35" fill="#e5e5e5"/>
<circle cx="533.02" cy="396.89" r="2.35" fill="#e5e5e5"/>
<circle cx="533.02" cy="406.26" r="2.35" fill="#e5e5e5"/>
<circle cx="533.02" cy="415.62" r="2.35" fill="#e5e5e5"/>
<circle cx="533.02" cy="424.98" r="2.35" fill="#e5e5e5"/>
<circle cx="533.02" cy="434.35" r="2.35" fill="#e5e5e5"/>
<line x1="533.02" y1="443.71" x2="533.02" y2="499.90" stroke="#555" stroke-width="0.8"/>
<circle cx="533.02" cy="443.71" r="2.45" fill="#333"/>
<circle cx="533.02" cy="453.08" r="2.45" fill="#333"/>
<circle cx="533.02" cy="462.44" r="2.45" fill="#333"/>
<circle cx="533.02" cy="471.80" r="2.45" fill="#333"/>
<circle cx="533.02" cy="481.17" r="2.45" fill="#333"/>
<circle cx="533.02" cy="490.53" r="2.45" fill="#333"/>
<circle cx="533.02" cy="499.90" r="2.45" fill="#333"/>
<circle cx="551.18" cy="368.80" r="2.35" fill="#e5e5e5"/>
<circle cx="551.18" cy="378.16" r="2.35" fill="#e5e5e5"/>
<line x1="551.18" y1="387.53" x2="551.18" y2="499.90" stroke="#555" stroke-width="0.8"/>
<circle cx="551.18" cy="387.53" r="2.45" fill="#333"/>
<circle cx="551.18" cy="396.89" r="2.45" fill="#333"/>
<circle cx="551.18" cy="406.26" r="2.45" fill="#333"/>
<circle cx="551.18" cy="415.62" r="2.45" fill="#333"/>
<circle cx="551.18" cy="424.98" r="2.45" fill="#333"/>
<circle cx="551.18" cy="434.35" r="2.45" fill="#333"/>
<circle cx="551.18" cy="443.71" r="2.45" fill="#333"/>
<circle cx="551.18" cy="453.08" r="2.45" fill="#333"/>
<circle cx="551.18" cy="462.44" r="2.45" fill="#333"/>
<circle cx="551.18" cy="471.80" r="2.45" fill="#333"/>
<circle cx="551.18" cy="481.17" r="2.45" fill="#333"/>
<circle cx="551.18" cy="490.53" r="2.45" fill="#333"/>
<circle cx="551.18" cy="499.90" r="2.45" fill="#333"/>
<circle cx="569.34" cy="368.80" r="2.35" fill="#e5e5e5"/>
<circle cx="569.34" cy="378.16" r="2.35" fill="#e5e5e5"/>
<circle cx="569.34" cy="387.53" r="2.35" fill="#e5e5e5"/>
<circle cx="569.34" cy="396.89" r="2.35" fill="#e5e5e5"/>
<circle cx="569.34" cy="406.26" r="2.35" fill="#e5e5e5"/>
<circle cx="569.34" cy="415.62" r="2.35" fill="#e5e5e5"/>
<circle cx="569.34" cy="424.98" r="2.35" fill="#e5e5e5"/>
<circle cx="569.34" cy="434.35" r="2.35" fill="#e5e5e5"/>
<circle cx="569.34" cy="443.71" r="2.35" fill="#e5e5e5"/>
<circle cx="569.34" cy="490.53" r="2.35" fill="#e5e5e5"/>
<line x1="569.34" y1="453.08" x2="569.34" y2="499.90" stroke="#555" stroke-width="0.8"/>
<circle cx="569.34" cy="453.08" r="2.45" fill="#333"/>
<circle cx="569.34" cy="462.44" r="2.45" fill="#333"/>
<circle cx="569.34" cy="471.80" r="2.45" fill="#333"/>
<circle cx="569.34" cy="481.17" r="2.45" fill="#333"/>
<circle cx="569.34" cy="499.90" r="2.45" fill="#333"/>
<circle cx="587.50" cy="368.80" r="2.35" fill="#e5e5e5"/>
<circle cx="587.50" cy="378.16" r="2.35" fill="#e5e5e5"/>
<circle cx="587.50" cy="387.53" r="2.35" fill="#e5e5e5"/>
<circle cx="587.50" cy="396.89" r="2.35" fill="#e5e5e5"/>
<circle cx="587.50" cy="406.26" r="2.35" fill="#e5e5e5"/>
<circle cx="587.50" cy="415.62" r="2.35" fill="#e5e5e5"/>
<circle cx="587.50" cy="424.98" r="2.35" fill="#e5e5e5"/>
<circle cx="587.50" cy="434.35" r="2.35" fill="#e5e5e5"/>
<circle cx="587.50" cy="443.71" r="2.35" fill="#e5e5e5"/>
<circle cx="587.50" cy="481.17" r="2.35" fill="#e5e5e5"/>
<circle cx="587.50" cy="490.53" r="2.35" fill="#e5e5e5"/>
<line x1="587.50" y1="453.08" x2="587.50" y2="499.90" stroke="#555" stroke-width="0.8"/>
<circle cx="587.50" cy="453.08" r="2.45" fill="#333"/>
<circle cx="587.50" cy="462.44" r="2.45" fill="#333"/>
<circle cx="587.50" cy="471.80" r="2.45" fill="#333"/>
<circle cx="587.50" cy="499.90" r="2.45" fill="#333"/>
<circle cx="605.66" cy="368.80" r="2.35" fill="#e5e5e5"/>
<circle cx="605.66" cy="378.16" r="2.35" fill="#e5e5e5"/>
<circle cx="605.66" cy="387.53" r="2.35" fill="#e5e5e5"/>
<circle cx="605.66" cy="396.89" r="2.35" fill="#e5e5e5"/>
<circle cx="605.66" cy="406.26" r="2.35" fill="#e5e5e5"/>
<circle cx="605.66" cy="415.62" r="2.35" fill="#e5e5e5"/>
<circle cx="605.66" cy="424.98" r="2.35" fill="#e5e5e5"/>
<circle cx="605.66" cy="434.35" r="2.35" fill="#e5e5e5"/>
<circle cx="605.66" cy="443.71" r="2.35" fill="#e5e5e5"/>
<circle cx="605.66" cy="453.08" r="2.35" fill="#e5e5e5"/>
<circle cx="605.66" cy="462.44" r="2.35" fill="#e5e5e5"/>
<line x1="605.66" y1="471.80" x2="605.66" y2="499.90" stroke="#555" stroke-width="0.8"/>
<circle cx="605.66" cy="471.80" r="2.45" fill="#333"/>
<circle cx="605.66" cy="481.17" r="2.45" fill="#333"/>
<circle cx="605.66" cy="490.53" r="2.45" fill="#333"/>
<circle cx="605.66" cy="499.90" r="2.45" fill="#333"/>
<circle cx="623.82" cy="490.53" r="2.35" fill="#e5e5e5"/>
<line x1="623.82" y1="368.80" x2="623.82" y2="499.90" stroke="#555" stroke-width="0.8"/>
<circle cx="623.82" cy="368.80" r="2.45" fill="#333"/>
<circle cx="623.82" cy="378.16" r="2.45" fill="#333"/>
<circle cx="623.82" cy="387.53" r="2.45" fill="#333"/>
<circle cx="623.82" cy="396.89" r="2.45" fill="#333"/>
<circle cx="623.82" cy="406.26" r="2.45" fill="#333"/>
<circle cx="623.82" cy="415.62" r="2.45" fill="#333"/>
<circle cx="623.82" cy="424.98" r="2.45" fill="#333"/>
<circle cx="623.82" cy="434.35" r="2.45" fill="#333"/>
<circle cx="623.82" cy="443.71" r="2.45" fill="#333"/>
<circle cx="623.82" cy="453.08" r="2.45" fill="#333"/>
<circle cx="623.82" cy="462.44" r="2.45" fill="#333"/>
<circle cx="623.82" cy="471.80" r="2.45" fill="#333"/>
<circle cx="623.82" cy="481.17" r="2.45" fill="#333"/>
<circle cx="623.82" cy="499.90" r="2.45" fill="#333"/>
<circle cx="641.98" cy="368.80" r="2.35" fill="#e5e5e5"/>
<circle cx="641.98" cy="378.16" r="2.35" fill="#e5e5e5"/>
<circle cx="641.98" cy="387.53" r="2.35" fill="#e5e5e5"/>
<circle cx="641.98" cy="396.89" r="2.35" fill="#e5e5e5"/>
<circle cx="641.98" cy="406.26" r="2.35" fill="#e5e5e5"/>
<circle cx="641.98" cy="415.62" r="2.35" fill="#e5e5e5"/>
<circle cx="641.98" cy="424.98" r="2.35" fill="#e5e5e5"/>
<circle cx="641.98" cy="434.35" r="2.35" fill="#e5e5e5"/>
<circle cx="641.98" cy="443.71" r="2.35" fill="#e5e5e5"/>
<circle cx="641.98" cy="453.08" r="2.35" fill="#e5e5e5"/>
<circle cx="641.98" cy="471.80" r="2.35" fill="#e5e5e5"/>
<circle cx="641.98" cy="490.53" r="2.35" fill="#e5e5e5"/>
<line x1="641.98" y1="462.44" x2="641.98" y2="499.90" stroke="#555" stroke-width="0.8"/>
<circle cx="641.98" cy="462.44" r="2.45" fill="#333"/>
<circle cx="641.98" cy="481.17" r="2.45" fill="#333"/>
<circle cx="641.98" cy="499.90" r="2.45" fill="#333"/>
<circle cx="660.14" cy="368.80" r="2.35" fill="#e5e5e5"/>
<circle cx="660.14" cy="378.16" r="2.35" fill="#e5e5e5"/>
<circle cx="660.14" cy="387.53" r="2.35" fill="#e5e5e5"/>
<circle cx="660.14" cy="396.89" r="2.35" fill="#e5e5e5"/>
<circle cx="660.14" cy="406.26" r="2.35" fill="#e5e5e5"/>
<circle cx="660.14" cy="415.62" r="2.35" fill="#e5e5e5"/>
<circle cx="660.14" cy="424.98" r="2.35" fill="#e5e5e5"/>
<circle cx="660.14" cy="481.17" r="2.35" fill="#e5e5e5"/>
<line x1="660.14" y1="434.35" x2="660.14" y2="499.90" stroke="#555" stroke-width="0.8"/>
<circle cx="660.14" cy="434.35" r="2.45" fill="#333"/>
<circle cx="660.14" cy="443.71" r="2.45" fill="#333"/>
<circle cx="660.14" cy="453.08" r="2.45" fill="#333"/>
<circle cx="660.14" cy="462.44" r="2.45" fill="#333"/>
<circle cx="660.14" cy="471.80" r="2.45" fill="#333"/>
<circle cx="660.14" cy="490.53" r="2.45" fill="#333"/>
<circle cx="660.14" cy="499.90" r="2.45" fill="#333"/>
<rect x="119.8" y="366.75" width="20.60" height="4.1" fill="#333"/>
<text x="172.70" y="371.20" font-size="6.75" fill="#222" text-anchor="middle" stroke="#222" stroke-width="0.2">OSTTA</text>
<rect x="118.6" y="376.11" width="21.80" height="4.1" fill="#333"/>
<text x="172.00" y="380.56" font-size="6.75" fill="#222" text-anchor="middle" stroke="#222" stroke-width="0.2">Pren</text>
<rect x="113.6" y="385.48" width="26.80" height="4.1" fill="#333"/>
<text x="172.60" y="389.93" font-size="6.75" fill="#222" text-anchor="middle" stroke="#222" stroke-width="0.2">OSTLU</text>
<rect x="110.6" y="394.84" width="29.80" height="4.1" fill="#333"/>
<text x="172.60" y="399.29" font-size="6.75" fill="#222" text-anchor="middle" stroke="#222" stroke-width="0.2">MICPC</text>
<rect x="108.6" y="404.21" width="31.80" height="4.1" fill="#333"/>
<text x="172.90" y="408.66" font-size="6.75" fill="#222" text-anchor="middle" stroke="#222" stroke-width="0.2">MICCC</text>
<rect x="108.6" y="413.57" width="31.80" height="4.1" fill="#333"/>
<text x="172.95" y="418.02" font-size="6.75" fill="#222" text-anchor="middle" stroke="#222" stroke-width="0.2">ARATH</text>
<rect x="102.0" y="422.93" width="38.40" height="4.1" fill="#333"/>
<text x="172.70" y="427.38" font-size="6.75" fill="#222" text-anchor="middle" stroke="#222" stroke-width="0.2">CHLVA</text>
<rect x="96.3" y="432.30" width="44.10" height="4.1" fill="#333"/>
<text x="172.70" y="436.75" font-size="6.75" fill="#222" text-anchor="middle" stroke="#222" stroke-width="0.2">VOLCA</text>
<rect x="88.9" y="441.66" width="51.50" height="4.1" fill="#333"/>
<text x="172.40" y="446.11" font-size="6.75" fill="#222" text-anchor="middle" stroke="#222" stroke-width="0.2">CHLRE</text>
<rect x="80.6" y="451.03" width="59.80" height="4.1" fill="#333"/>
<text x="174.20" y="455.48" font-size="6.85" fill="#222" text-anchor="middle" stroke="#222" stroke-width="0.2">Mmin26BAM</text>
<rect x="77.6" y="460.39" width="62.80" height="4.1" fill="#333"/>
<text x="174.00" y="464.84" font-size="6.85" fill="#222" text-anchor="middle" stroke="#222" stroke-width="0.2">CzofSAG211</text>
<rect x="76.9" y="469.75" width="63.50" height="4.1" fill="#333"/>
<text x="174.30" y="474.20" font-size="6.85" fill="#222" text-anchor="middle" stroke="#222" stroke-width="0.2">RAPSUB35</text>
<rect x="61.6" y="479.12" width="78.80" height="4.1" fill="#333"/>
<text x="176.00" y="483.57" font-size="6.85" fill="#222" text-anchor="middle" stroke="#222" stroke-width="0.2">ScenNREL46B.D3</text>
<rect x="45.4" y="488.48" width="95.00" height="4.1" fill="#333"/>
<text x="174.70" y="492.93" font-size="6.85" fill="#222" text-anchor="middle" stroke="#222" stroke-width="0.2">SobIDOE152Z</text>
<rect x="13.9" y="497.85" width="126.50" height="4.1" fill="#333"/>
<text x="175.00" y="502.30" font-size="6.85" fill="#222" text-anchor="middle" stroke="#222" stroke-width="0.2">SobIUTEX393</text>
<line x1="8.2" y1="504.5" x2="146.7" y2="504.5" stroke="#bdbdbd" stroke-width="0.8"/>
<line x1="40.57" y1="504.5" x2="40.57" y2="505.8" stroke="#aaa" stroke-width="0.6"/>
<text x="0" y="0" font-size="5.5" fill="#555" text-anchor="middle" transform="translate(35.00 509.80) scale(0.9 1)">9000</text>
<line x1="73.78" y1="504.5" x2="73.78" y2="505.8" stroke="#aaa" stroke-width="0.6"/>
<text x="0" y="0" font-size="5.5" fill="#555" text-anchor="middle" transform="translate(68.90 509.80) scale(0.9 1)">6000</text>
<line x1="106.99" y1="504.5" x2="106.99" y2="505.8" stroke="#aaa" stroke-width="0.6"/>
<text x="0" y="0" font-size="5.5" fill="#555" text-anchor="middle" transform="translate(102.10 509.80) scale(0.9 1)">3000</text>
<line x1="140.20" y1="504.5" x2="140.20" y2="505.8" stroke="#aaa" stroke-width="0.6"/>
<text x="0" y="0" font-size="5.5" fill="#555" text-anchor="middle" transform="translate(139.50 509.80) scale(0.9 1)">0</text>
<text x="76.90" y="515.20" font-size="5.6" fill="#222" text-anchor="middle" stroke="#222" stroke-width="0.12">Set Size</text>
<text x="7.60" y="550.90" font-size="21.5" fill="#000" font-weight="bold">D</text>
<rect x="30.6" y="517.9" width="571.10" height="239.00" fill="#EBEBEB"/>
<line x1="30.6" y1="706.50" x2="601.7" y2="706.50" stroke="#fff" stroke-width="0.55"/>
<line x1="30.6" y1="634.30" x2="601.7" y2="634.30" stroke="#fff" stroke-width="0.55"/>
<line x1="30.6" y1="562.10" x2="601.7" y2="562.10" stroke="#fff" stroke-width="0.55"/>
<line x1="30.6" y1="742.60" x2="601.7" y2="742.60" stroke="#fff" stroke-width="1.3"/>
<line x1="30.6" y1="670.40" x2="601.7" y2="670.40" stroke="#fff" stroke-width="1.3"/>
<line x1="30.6" y1="598.20" x2="601.7" y2="598.20" stroke="#fff" stroke-width="1.3"/>
<line x1="30.6" y1="526.00" x2="601.7" y2="526.00" stroke="#fff" stroke-width="1.3"/>
<line x1="47.56" y1="517.9" x2="47.56" y2="756.9" stroke="#fff" stroke-width="1.5"/>
<line x1="75.832" y1="517.9" x2="75.832" y2="756.9" stroke="#fff" stroke-width="1.5"/>
<line x1="104.104" y1="517.9" x2="104.104" y2="756.9" stroke="#fff" stroke-width="1.5"/>
<line x1="132.376" y1="517.9" x2="132.376" y2="756.9" stroke="#fff" stroke-width="1.5"/>
<line x1="160.648" y1="517.9" x2="160.648" y2="756.9" stroke="#fff" stroke-width="1.5"/>
<line x1="188.92" y1="517.9" x2="188.92" y2="756.9" stroke="#fff" stroke-width="1.5"/>
<line x1="217.192" y1="517.9" x2="217.192" y2="756.9" stroke="#fff" stroke-width="1.5"/>
<line x1="245.464" y1="517.9" x2="245.464" y2="756.9" stroke="#fff" stroke-width="1.5"/>
<line x1="273.736" y1="517.9" x2="273.736" y2="756.9" stroke="#fff" stroke-width="1.5"/>
<line x1="302.008" y1="517.9" x2="302.008" y2="756.9" stroke="#fff" stroke-width="1.5"/>
<line x1="330.28" y1="517.9" x2="330.28" y2="756.9" stroke="#fff" stroke-width="1.5"/>
<line x1="358.55199999999996" y1="517.9" x2="358.55199999999996" y2="756.9" stroke="#fff" stroke-width="1.5"/>
<line x1="386.824" y1="517.9" x2="386.824" y2="756.9" stroke="#fff" stroke-width="1.5"/>
<line x1="415.096" y1="517.9" x2="415.096" y2="756.9" stroke="#fff" stroke-width="1.5"/>
<line x1="443.368" y1="517.9" x2="443.368" y2="756.9" stroke="#fff" stroke-width="1.5"/>
<line x1="471.64" y1="517.9" x2="471.64" y2="756.9" stroke="#fff" stroke-width="1.5"/>
<line x1="499.912" y1="517.9" x2="499.912" y2="756.9" stroke="#fff" stroke-width="1.5"/>
<line x1="528.184" y1="517.9" x2="528.184" y2="756.9" stroke="#fff" stroke-width="1.5"/>
<line x1="556.4559999999999" y1="517.9" x2="556.4559999999999" y2="756.9" stroke="#fff" stroke-width="1.5"/>
<line x1="584.7280000000001" y1="517.9" x2="584.7280000000001" y2="756.9" stroke="#fff" stroke-width="1.5"/>
<line x1="27.9" y1="742.60" x2="30.6" y2="742.60" stroke="#333" stroke-width="1.0"/>
<text x="25.60" y="745.50" font-size="9.2" fill="#4D4D4D" text-anchor="end">0.0</text>
<line x1="27.9" y1="670.40" x2="30.6" y2="670.40" stroke="#333" stroke-width="1.0"/>
<text x="25.60" y="673.30" font-size="9.2" fill="#4D4D4D" text-anchor="end">0.2</text>
<line x1="27.9" y1="598.20" x2="30.6" y2="598.20" stroke="#333" stroke-width="1.0"/>
<text x="25.60" y="601.10" font-size="9.2" fill="#4D4D4D" text-anchor="end">0.4</text>
<line x1="27.9" y1="526.00" x2="30.6" y2="526.00" stroke="#333" stroke-width="1.0"/>
<text x="25.60" y="528.90" font-size="9.2" fill="#4D4D4D" text-anchor="end">0.6</text>
<text x="0" y="0" font-size="12.3" fill="#000" text-anchor="middle" transform="translate(7.6 628.7) rotate(-90)">Proportion</text>
<line x1="47.56" y1="756.9" x2="47.56" y2="759.60" stroke="#333" stroke-width="1.0"/>
<text x="47.56" y="768.10" font-size="9.1" fill="#4D4D4D" text-anchor="middle">A</text>
<line x1="42.46" y1="643.7" x2="42.46" y2="676.5" stroke="#333333" stroke-width="1.2"/>
<line x1="42.46" y1="698.8" x2="42.46" y2="732.0" stroke="#333333" stroke-width="1.2"/>
<circle cx="42.46" cy="621.25" r="2.35" fill="#333333"/>
<circle cx="42.46" cy="623.08" r="2.35" fill="#333333"/>
<circle cx="42.46" cy="624.90" r="2.35" fill="#333333"/>
<circle cx="42.46" cy="626.73" r="2.35" fill="#333333"/>
<circle cx="42.46" cy="628.56" r="2.35" fill="#333333"/>
<circle cx="42.46" cy="630.39" r="2.35" fill="#333333"/>
<circle cx="42.46" cy="632.21" r="2.35" fill="#333333"/>
<circle cx="42.46" cy="634.04" r="2.35" fill="#333333"/>
<circle cx="42.46" cy="635.87" r="2.35" fill="#333333"/>
<circle cx="42.46" cy="637.70" r="2.35" fill="#333333"/>
<circle cx="42.46" cy="639.52" r="2.35" fill="#333333"/>
<circle cx="42.46" cy="641.35" r="2.35" fill="#333333"/>
<circle cx="42.46" cy="734.35" r="2.35" fill="#333333"/>
<circle cx="42.46" cy="735.95" r="2.35" fill="#333333"/>
<circle cx="42.46" cy="542.4" r="2.3" fill="#333333"/>
<circle cx="42.46" cy="573.1" r="2.3" fill="#333333"/>
<circle cx="42.46" cy="600.2" r="2.3" fill="#333333"/>
<circle cx="42.46" cy="604.6" r="2.3" fill="#333333"/>
<circle cx="42.46" cy="742.8" r="2.3" fill="#333333"/>
<rect x="37.36" y="676.5" width="10.2" height="22.30" fill="#F8766D" stroke="#2a2a2a" stroke-width="1.05"/>
<line x1="37.36" y1="688.3" x2="47.56" y2="688.3" stroke="#1e1e1e" stroke-width="1.65"/>
<line x1="52.66" y1="638.4" x2="52.66" y2="673.9" stroke="#333333" stroke-width="1.2"/>
<line x1="52.66" y1="698.8" x2="52.66" y2="735.1" stroke="#333333" stroke-width="1.2"/>
<circle cx="52.66" cy="618.45" r="2.35" fill="#333333"/>
<circle cx="52.66" cy="620.41" r="2.35" fill="#333333"/>
<circle cx="52.66" cy="622.36" r="2.35" fill="#333333"/>
<circle cx="52.66" cy="624.32" r="2.35" fill="#333333"/>
<circle cx="52.66" cy="626.27" r="2.35" fill="#333333"/>
<circle cx="52.66" cy="628.23" r="2.35" fill="#333333"/>
<circle cx="52.66" cy="630.18" r="2.35" fill="#333333"/>
<circle cx="52.66" cy="632.14" r="2.35" fill="#333333"/>
<circle cx="52.66" cy="634.09" r="2.35" fill="#333333"/>
<circle cx="52.66" cy="636.05" r="2.35" fill="#333333"/>
<circle cx="52.66" cy="737.45" r="2.35" fill="#333333"/>
<circle cx="52.66" cy="738.15" r="2.35" fill="#333333"/>
<circle cx="52.66" cy="577.9" r="2.3" fill="#333333"/>
<circle cx="52.66" cy="595.7" r="2.3" fill="#333333"/>
<circle cx="52.66" cy="597.2" r="2.3" fill="#333333"/>
<circle cx="52.66" cy="612.3" r="2.3" fill="#333333"/>
<rect x="47.56" y="673.9" width="10.2" height="24.90" fill="#00BFC4" stroke="#2a2a2a" stroke-width="1.05"/>
<line x1="47.56" y1="687.5" x2="57.76" y2="687.5" stroke="#1e1e1e" stroke-width="1.65"/>
<line x1="75.832" y1="756.9" x2="75.832" y2="759.60" stroke="#333" stroke-width="1.0"/>
<text x="75.83" y="768.10" font-size="9.1" fill="#4D4D4D" text-anchor="middle">C</text>
<line x1="70.73" y1="723.0" x2="70.73" y2="731.3" stroke="#333333" stroke-width="1.2"/>
<line x1="70.73" y1="738.9" x2="70.73" y2="742.6" stroke="#333333" stroke-width="1.2"/>
<circle cx="70.73" cy="675.65" r="2.35" fill="#333333"/>
<circle cx="70.73" cy="677.52" r="2.35" fill="#333333"/>
<circle cx="70.73" cy="679.40" r="2.35" fill="#333333"/>
<circle cx="70.73" cy="681.27" r="2.35" fill="#333333"/>
<circle cx="70.73" cy="683.15" r="2.35" fill="#333333"/>
<circle cx="70.73" cy="685.02" r="2.35" fill="#333333"/>
<circle cx="70.73" cy="686.90" r="2.35" fill="#333333"/>
<circle cx="70.73" cy="688.77" r="2.35" fill="#333333"/>
<circle cx="70.73" cy="690.65" r="2.35" fill="#333333"/>
<circle cx="70.73" cy="692.52" r="2.35" fill="#333333"/>
<circle cx="70.73" cy="694.40" r="2.35" fill="#333333"/>
<circle cx="70.73" cy="696.27" r="2.35" fill="#333333"/>
<circle cx="70.73" cy="698.15" r="2.35" fill="#333333"/>
<circle cx="70.73" cy="700.02" r="2.35" fill="#333333"/>
<circle cx="70.73" cy="701.90" r="2.35" fill="#333333"/>
<circle cx="70.73" cy="703.77" r="2.35" fill="#333333"/>
<circle cx="70.73" cy="705.65" r="2.35" fill="#333333"/>
<circle cx="70.73" cy="707.52" r="2.35" fill="#333333"/>
<circle cx="70.73" cy="709.40" r="2.35" fill="#333333"/>
<circle cx="70.73" cy="711.27" r="2.35" fill="#333333"/>
<circle cx="70.73" cy="713.15" r="2.35" fill="#333333"/>
<circle cx="70.73" cy="715.02" r="2.35" fill="#333333"/>
<circle cx="70.73" cy="716.90" r="2.35" fill="#333333"/>
<circle cx="70.73" cy="718.77" r="2.35" fill="#333333"/>
<circle cx="70.73" cy="720.65" r="2.35" fill="#333333"/>
<circle cx="70.73" cy="643.8" r="2.3" fill="#333333"/>
<circle cx="70.73" cy="658.2" r="2.3" fill="#333333"/>
<rect x="65.63" y="731.3" width="10.2" height="7.60" fill="#F8766D" stroke="#2a2a2a" stroke-width="1.05"/>
<line x1="65.63" y1="735.0" x2="75.83" y2="735.0" stroke="#1e1e1e" stroke-width="1.65"/>
<line x1="80.93" y1="723.0" x2="80.93" y2="731.7" stroke="#333333" stroke-width="1.2"/>
<line x1="80.93" y1="738.6" x2="80.93" y2="742.6" stroke="#333333" stroke-width="1.2"/>
<circle cx="80.93" cy="694.05" r="2.35" fill="#333333"/>
<circle cx="80.93" cy="695.95" r="2.35" fill="#333333"/>
<circle cx="80.93" cy="697.85" r="2.35" fill="#333333"/>
<circle cx="80.93" cy="699.75" r="2.35" fill="#333333"/>
<circle cx="80.93" cy="701.65" r="2.35" fill="#333333"/>
<circle cx="80.93" cy="703.55" r="2.35" fill="#333333"/>
<circle cx="80.93" cy="705.45" r="2.35" fill="#333333"/>
<circle cx="80.93" cy="707.35" r="2.35" fill="#333333"/>
<circle cx="80.93" cy="709.25" r="2.35" fill="#333333"/>
<circle cx="80.93" cy="711.15" r="2.35" fill="#333333"/>
<circle cx="80.93" cy="713.05" r="2.35" fill="#333333"/>
<circle cx="80.93" cy="714.95" r="2.35" fill="#333333"/>
<circle cx="80.93" cy="716.85" r="2.35" fill="#333333"/>
<circle cx="80.93" cy="718.75" r="2.35" fill="#333333"/>
<circle cx="80.93" cy="720.65" r="2.35" fill="#333333"/>
<circle cx="80.93" cy="685.2" r="2.3" fill="#333333"/>
<circle cx="80.93" cy="678.7" r="2.3" fill="#333333"/>
<circle cx="80.93" cy="671.1" r="2.3" fill="#333333"/>
<circle cx="80.93" cy="666.8" r="2.3" fill="#333333"/>
<circle cx="80.93" cy="654.9" r="2.3" fill="#333333"/>
<circle cx="80.93" cy="653.8" r="2.3" fill="#333333"/>
<circle cx="80.93" cy="609.5" r="2.3" fill="#333333"/>
<rect x="75.83" y="731.7" width="10.2" height="6.90" fill="#00BFC4" stroke="#2a2a2a" stroke-width="1.05"/>
<line x1="75.83" y1="735.4" x2="86.03" y2="735.4" stroke="#1e1e1e" stroke-width="1.65"/>
<line x1="104.104" y1="756.9" x2="104.104" y2="759.60" stroke="#333" stroke-width="1.0"/>
<text x="104.10" y="768.10" font-size="9.1" fill="#4D4D4D" text-anchor="middle">D</text>
<line x1="99.00" y1="715.5" x2="99.00" y2="724.1" stroke="#333333" stroke-width="1.2"/>
<line x1="99.00" y1="731.7" x2="99.00" y2="740.0" stroke="#333333" stroke-width="1.2"/>
<circle cx="99.00" cy="701.65" r="2.35" fill="#333333"/>
<circle cx="99.00" cy="703.57" r="2.35" fill="#333333"/>
<circle cx="99.00" cy="705.48" r="2.35" fill="#333333"/>
<circle cx="99.00" cy="707.40" r="2.35" fill="#333333"/>
<circle cx="99.00" cy="709.32" r="2.35" fill="#333333"/>
<circle cx="99.00" cy="711.23" r="2.35" fill="#333333"/>
<circle cx="99.00" cy="713.15" r="2.35" fill="#333333"/>
<circle cx="99.00" cy="687.8" r="2.3" fill="#333333"/>
<circle cx="99.00" cy="632.6" r="2.3" fill="#333333"/>
<circle cx="99.00" cy="742.1" r="2.3" fill="#333333"/>
<rect x="93.90" y="724.1" width="10.2" height="7.60" fill="#F8766D" stroke="#2a2a2a" stroke-width="1.05"/>
<line x1="93.90" y1="727.8" x2="104.10" y2="727.8" stroke="#1e1e1e" stroke-width="1.65"/>
<line x1="109.20" y1="715.0" x2="109.20" y2="723.7" stroke="#333333" stroke-width="1.2"/>
<line x1="109.20" y1="731.7" x2="109.20" y2="740.0" stroke="#333333" stroke-width="1.2"/>
<circle cx="109.20" cy="697.35" r="2.35" fill="#333333"/>
<circle cx="109.20" cy="699.26" r="2.35" fill="#333333"/>
<circle cx="109.20" cy="701.17" r="2.35" fill="#333333"/>
<circle cx="109.20" cy="703.09" r="2.35" fill="#333333"/>
<circle cx="109.20" cy="705.00" r="2.35" fill="#333333"/>
<circle cx="109.20" cy="706.91" r="2.35" fill="#333333"/>
<circle cx="109.20" cy="708.83" r="2.35" fill="#333333"/>
<circle cx="109.20" cy="710.74" r="2.35" fill="#333333"/>
<circle cx="109.20" cy="712.65" r="2.35" fill="#333333"/>
<circle cx="109.20" cy="689.0" r="2.3" fill="#333333"/>
<circle cx="109.20" cy="632.6" r="2.3" fill="#333333"/>
<circle cx="109.20" cy="742.1" r="2.3" fill="#333333"/>
<rect x="104.10" y="723.7" width="10.2" height="8.00" fill="#00BFC4" stroke="#2a2a2a" stroke-width="1.05"/>
<line x1="104.10" y1="727.6" x2="114.30" y2="727.6" stroke="#1e1e1e" stroke-width="1.65"/>
<line x1="132.376" y1="756.9" x2="132.376" y2="759.60" stroke="#333" stroke-width="1.0"/>
<text x="132.38" y="768.10" font-size="9.1" fill="#4D4D4D" text-anchor="middle">E</text>
<line x1="127.28" y1="714.4" x2="127.28" y2="724.1" stroke="#333333" stroke-width="1.2"/>
<line x1="127.28" y1="732.1" x2="127.28" y2="742.0" stroke="#333333" stroke-width="1.2"/>
<circle cx="127.28" cy="695.15" r="2.35" fill="#333333"/>
<circle cx="127.28" cy="697.03" r="2.35" fill="#333333"/>
<circle cx="127.28" cy="698.91" r="2.35" fill="#333333"/>
<circle cx="127.28" cy="700.78" r="2.35" fill="#333333"/>
<circle cx="127.28" cy="702.66" r="2.35" fill="#333333"/>
<circle cx="127.28" cy="704.54" r="2.35" fill="#333333"/>
<circle cx="127.28" cy="706.42" r="2.35" fill="#333333"/>
<circle cx="127.28" cy="708.29" r="2.35" fill="#333333"/>
<circle cx="127.28" cy="710.17" r="2.35" fill="#333333"/>
<circle cx="127.28" cy="712.05" r="2.35" fill="#333333"/>
<circle cx="127.28" cy="688.9" r="2.3" fill="#333333"/>
<rect x="122.18" y="724.1" width="10.2" height="8.00" fill="#F8766D" stroke="#2a2a2a" stroke-width="1.05"/>
<line x1="122.18" y1="728.5" x2="132.38" y2="728.5" stroke="#1e1e1e" stroke-width="1.65"/>
<line x1="137.48" y1="714.0" x2="137.48" y2="723.7" stroke="#333333" stroke-width="1.2"/>
<line x1="137.48" y1="732.1" x2="137.48" y2="742.0" stroke="#333333" stroke-width="1.2"/>
<circle cx="137.48" cy="703.75" r="2.35" fill="#333333"/>
<circle cx="137.48" cy="705.73" r="2.35" fill="#333333"/>
<circle cx="137.48" cy="707.70" r="2.35" fill="#333333"/>
<circle cx="137.48" cy="709.67" r="2.35" fill="#333333"/>
<circle cx="137.48" cy="711.65" r="2.35" fill="#333333"/>
<circle cx="137.48" cy="679.4" r="2.3" fill="#333333"/>
<circle cx="137.48" cy="673.7" r="2.3" fill="#333333"/>
<rect x="132.38" y="723.7" width="10.2" height="8.40" fill="#00BFC4" stroke="#2a2a2a" stroke-width="1.05"/>
<line x1="132.38" y1="728.0" x2="142.58" y2="728.0" stroke="#1e1e1e" stroke-width="1.65"/>
<line x1="160.648" y1="756.9" x2="160.648" y2="759.60" stroke="#333" stroke-width="1.0"/>
<text x="160.65" y="768.10" font-size="9.1" fill="#4D4D4D" text-anchor="middle">F</text>
<line x1="155.55" y1="725.5" x2="155.55" y2="731.6" stroke="#333333" stroke-width="1.2"/>
<line x1="155.55" y1="737.5" x2="155.55" y2="742.0" stroke="#333333" stroke-width="1.2"/>
<circle cx="155.55" cy="714.35" r="2.35" fill="#333333"/>
<circle cx="155.55" cy="716.11" r="2.35" fill="#333333"/>
<circle cx="155.55" cy="717.87" r="2.35" fill="#333333"/>
<circle cx="155.55" cy="719.63" r="2.35" fill="#333333"/>
<circle cx="155.55" cy="721.39" r="2.35" fill="#333333"/>
<circle cx="155.55" cy="723.15" r="2.35" fill="#333333"/>
<circle cx="155.55" cy="706.7" r="2.3" fill="#333333"/>
<rect x="150.45" y="731.6" width="10.2" height="5.90" fill="#F8766D" stroke="#2a2a2a" stroke-width="1.05"/>
<line x1="150.45" y1="734.8" x2="160.65" y2="734.8" stroke="#1e1e1e" stroke-width="1.65"/>
<line x1="165.75" y1="725.5" x2="165.75" y2="731.1" stroke="#333333" stroke-width="1.2"/>
<line x1="165.75" y1="737.5" x2="165.75" y2="742.0" stroke="#333333" stroke-width="1.2"/>
<circle cx="165.75" cy="713.05" r="2.35" fill="#333333"/>
<circle cx="165.75" cy="715.07" r="2.35" fill="#333333"/>
<circle cx="165.75" cy="717.09" r="2.35" fill="#333333"/>
<circle cx="165.75" cy="719.11" r="2.35" fill="#333333"/>
<circle cx="165.75" cy="721.13" r="2.35" fill="#333333"/>
<circle cx="165.75" cy="723.15" r="2.35" fill="#333333"/>
<circle cx="165.75" cy="705.4" r="2.3" fill="#333333"/>
<rect x="160.65" y="731.1" width="10.2" height="6.40" fill="#00BFC4" stroke="#2a2a2a" stroke-width="1.05"/>
<line x1="160.65" y1="734.3" x2="170.85" y2="734.3" stroke="#1e1e1e" stroke-width="1.65"/>
<line x1="188.92" y1="756.9" x2="188.92" y2="759.60" stroke="#333" stroke-width="1.0"/>
<text x="188.92" y="768.10" font-size="9.1" fill="#4D4D4D" text-anchor="middle">G</text>
<line x1="183.82" y1="693.5" x2="183.82" y2="707.5" stroke="#333333" stroke-width="1.2"/>
<line x1="183.82" y1="718.6" x2="183.82" y2="733.0" stroke="#333333" stroke-width="1.2"/>
<circle cx="183.82" cy="664.85" r="2.35" fill="#333333"/>
<circle cx="183.82" cy="666.73" r="2.35" fill="#333333"/>
<circle cx="183.82" cy="668.61" r="2.35" fill="#333333"/>
<circle cx="183.82" cy="670.49" r="2.35" fill="#333333"/>
<circle cx="183.82" cy="672.36" r="2.35" fill="#333333"/>
<circle cx="183.82" cy="674.24" r="2.35" fill="#333333"/>
<circle cx="183.82" cy="676.12" r="2.35" fill="#333333"/>
<circle cx="183.82" cy="678.00" r="2.35" fill="#333333"/>
<circle cx="183.82" cy="679.88" r="2.35" fill="#333333"/>
<circle cx="183.82" cy="681.76" r="2.35" fill="#333333"/>
<circle cx="183.82" cy="683.64" r="2.35" fill="#333333"/>
<circle cx="183.82" cy="685.51" r="2.35" fill="#333333"/>
<circle cx="183.82" cy="687.39" r="2.35" fill="#333333"/>
<circle cx="183.82" cy="689.27" r="2.35" fill="#333333"/>
<circle cx="183.82" cy="691.15" r="2.35" fill="#333333"/>
<circle cx="183.82" cy="650.5" r="2.3" fill="#333333"/>
<circle cx="183.82" cy="636.5" r="2.3" fill="#333333"/>
<circle cx="183.82" cy="622.9" r="2.3" fill="#333333"/>
<circle cx="183.82" cy="735.6" r="2.3" fill="#333333"/>
<circle cx="183.82" cy="742.3" r="2.3" fill="#333333"/>
<rect x="178.72" y="707.5" width="10.2" height="11.10" fill="#F8766D" stroke="#2a2a2a" stroke-width="1.05"/>
<line x1="178.72" y1="712.6" x2="188.92" y2="712.6" stroke="#1e1e1e" stroke-width="1.65"/>
<line x1="194.02" y1="693.5" x2="194.02" y2="708.4" stroke="#333333" stroke-width="1.2"/>
<line x1="194.02" y1="720.2" x2="194.02" y2="734.0" stroke="#333333" stroke-width="1.2"/>
<circle cx="194.02" cy="678.85" r="2.35" fill="#333333"/>
<circle cx="194.02" cy="680.90" r="2.35" fill="#333333"/>
<circle cx="194.02" cy="682.95" r="2.35" fill="#333333"/>
<circle cx="194.02" cy="685.00" r="2.35" fill="#333333"/>
<circle cx="194.02" cy="687.05" r="2.35" fill="#333333"/>
<circle cx="194.02" cy="689.10" r="2.35" fill="#333333"/>
<circle cx="194.02" cy="691.15" r="2.35" fill="#333333"/>
<circle cx="194.02" cy="673.6" r="2.3" fill="#333333"/>
<circle cx="194.02" cy="671.0" r="2.3" fill="#333333"/>
<circle cx="194.02" cy="662.8" r="2.3" fill="#333333"/>
<circle cx="194.02" cy="660.6" r="2.3" fill="#333333"/>
<circle cx="194.02" cy="622.9" r="2.3" fill="#333333"/>
<circle cx="194.02" cy="606.8" r="2.3" fill="#333333"/>
<circle cx="194.02" cy="579.5" r="2.3" fill="#333333"/>
<circle cx="194.02" cy="736.2" r="2.3" fill="#333333"/>
<circle cx="194.02" cy="738.3" r="2.3" fill="#333333"/>
<rect x="188.92" y="708.4" width="10.2" height="11.80" fill="#00BFC4" stroke="#2a2a2a" stroke-width="1.05"/>
<line x1="188.92" y1="714.4" x2="199.12" y2="714.4" stroke="#1e1e1e" stroke-width="1.65"/>
<line x1="217.192" y1="756.9" x2="217.192" y2="759.60" stroke="#333" stroke-width="1.0"/>
<text x="217.19" y="768.10" font-size="9.1" fill="#4D4D4D" text-anchor="middle">H</text>
<line x1="212.09" y1="725.5" x2="212.09" y2="731.6" stroke="#333333" stroke-width="1.2"/>
<line x1="212.09" y1="736.7" x2="212.09" y2="742.0" stroke="#333333" stroke-width="1.2"/>
<circle cx="212.09" cy="715.75" r="2.35" fill="#333333"/>
<circle cx="212.09" cy="717.60" r="2.35" fill="#333333"/>
<circle cx="212.09" cy="719.45" r="2.35" fill="#333333"/>
<circle cx="212.09" cy="721.30" r="2.35" fill="#333333"/>
<circle cx="212.09" cy="723.15" r="2.35" fill="#333333"/>
<circle cx="212.09" cy="705.4" r="2.3" fill="#333333"/>
<circle cx="212.09" cy="687.2" r="2.3" fill="#333333"/>
<rect x="206.99" y="731.6" width="10.2" height="5.10" fill="#F8766D" stroke="#2a2a2a" stroke-width="1.05"/>
<line x1="206.99" y1="734.3" x2="217.19" y2="734.3" stroke="#1e1e1e" stroke-width="1.65"/>
<line x1="222.29" y1="725.5" x2="222.29" y2="732.2" stroke="#333333" stroke-width="1.2"/>
<line x1="222.29" y1="737.5" x2="222.29" y2="742.0" stroke="#333333" stroke-width="1.2"/>
<circle cx="222.29" cy="717.05" r="2.35" fill="#333333"/>
<circle cx="222.29" cy="719.08" r="2.35" fill="#333333"/>
<circle cx="222.29" cy="721.12" r="2.35" fill="#333333"/>
<circle cx="222.29" cy="723.15" r="2.35" fill="#333333"/>
<circle cx="222.29" cy="710.7" r="2.3" fill="#333333"/>
<rect x="217.19" y="732.2" width="10.2" height="5.30" fill="#00BFC4" stroke="#2a2a2a" stroke-width="1.05"/>
<line x1="217.19" y1="735.0" x2="227.39" y2="735.0" stroke="#1e1e1e" stroke-width="1.65"/>
<line x1="245.464" y1="756.9" x2="245.464" y2="759.60" stroke="#333" stroke-width="1.0"/>
<text x="245.46" y="768.10" font-size="9.1" fill="#4D4D4D" text-anchor="middle">I</text>
<line x1="240.36" y1="725.5" x2="240.36" y2="731.6" stroke="#333333" stroke-width="1.2"/>
<line x1="240.36" y1="738.0" x2="240.36" y2="742.0" stroke="#333333" stroke-width="1.2"/>
<circle cx="240.36" cy="714.35" r="2.35" fill="#333333"/>
<circle cx="240.36" cy="716.11" r="2.35" fill="#333333"/>
<circle cx="240.36" cy="717.87" r="2.35" fill="#333333"/>
<circle cx="240.36" cy="719.63" r="2.35" fill="#333333"/>
<circle cx="240.36" cy="721.39" r="2.35" fill="#333333"/>
<circle cx="240.36" cy="723.15" r="2.35" fill="#333333"/>
<circle cx="240.36" cy="710.2" r="2.3" fill="#333333"/>
<rect x="235.26" y="731.6" width="10.2" height="6.40" fill="#F8766D" stroke="#2a2a2a" stroke-width="1.05"/>
<line x1="235.26" y1="734.8" x2="245.46" y2="734.8" stroke="#1e1e1e" stroke-width="1.65"/>
<line x1="250.56" y1="724.1" x2="250.56" y2="731.1" stroke="#333333" stroke-width="1.2"/>
<line x1="250.56" y1="737.5" x2="250.56" y2="742.0" stroke="#333333" stroke-width="1.2"/>
<circle cx="250.56" cy="714.35" r="2.35" fill="#333333"/>
<circle cx="250.56" cy="716.20" r="2.35" fill="#333333"/>
<circle cx="250.56" cy="718.05" r="2.35" fill="#333333"/>
<circle cx="250.56" cy="719.90" r="2.35" fill="#333333"/>
<circle cx="250.56" cy="721.75" r="2.35" fill="#333333"/>
<rect x="245.46" y="731.1" width="10.2" height="6.40" fill="#00BFC4" stroke="#2a2a2a" stroke-width="1.05"/>
<line x1="245.46" y1="734.5" x2="255.66" y2="734.5" stroke="#1e1e1e" stroke-width="1.65"/>
<line x1="273.736" y1="756.9" x2="273.736" y2="759.60" stroke="#333" stroke-width="1.0"/>
<text x="273.74" y="768.10" font-size="9.1" fill="#4D4D4D" text-anchor="middle">K</text>
<line x1="268.64" y1="720.1" x2="268.64" y2="729.5" stroke="#333333" stroke-width="1.2"/>
<line x1="268.64" y1="736.7" x2="268.64" y2="742.0" stroke="#333333" stroke-width="1.2"/>
<circle cx="268.64" cy="698.35" r="2.35" fill="#333333"/>
<circle cx="268.64" cy="700.29" r="2.35" fill="#333333"/>
<circle cx="268.64" cy="702.23" r="2.35" fill="#333333"/>
<circle cx="268.64" cy="704.17" r="2.35" fill="#333333"/>
<circle cx="268.64" cy="706.11" r="2.35" fill="#333333"/>
<circle cx="268.64" cy="708.05" r="2.35" fill="#333333"/>
<circle cx="268.64" cy="709.99" r="2.35" fill="#333333"/>
<circle cx="268.64" cy="711.93" r="2.35" fill="#333333"/>
<circle cx="268.64" cy="713.87" r="2.35" fill="#333333"/>
<circle cx="268.64" cy="715.81" r="2.35" fill="#333333"/>
<circle cx="268.64" cy="717.75" r="2.35" fill="#333333"/>
<circle cx="268.64" cy="689.3" r="2.3" fill="#333333"/>
<circle cx="268.64" cy="684.0" r="2.3" fill="#333333"/>
<circle cx="268.64" cy="624.2" r="2.3" fill="#333333"/>
<rect x="263.54" y="729.5" width="10.2" height="7.20" fill="#F8766D" stroke="#2a2a2a" stroke-width="1.05"/>
<line x1="263.54" y1="733.0" x2="273.74" y2="733.0" stroke="#1e1e1e" stroke-width="1.65"/>
<line x1="278.84" y1="720.1" x2="278.84" y2="728.1" stroke="#333333" stroke-width="1.2"/>
<line x1="278.84" y1="735.6" x2="278.84" y2="742.0" stroke="#333333" stroke-width="1.2"/>
<circle cx="278.84" cy="688.95" r="2.35" fill="#333333"/>
<circle cx="278.84" cy="690.87" r="2.35" fill="#333333"/>
<circle cx="278.84" cy="692.79" r="2.35" fill="#333333"/>
<circle cx="278.84" cy="694.71" r="2.35" fill="#333333"/>
<circle cx="278.84" cy="696.63" r="2.35" fill="#333333"/>
<circle cx="278.84" cy="698.55" r="2.35" fill="#333333"/>
<circle cx="278.84" cy="700.47" r="2.35" fill="#333333"/>
<circle cx="278.84" cy="702.39" r="2.35" fill="#333333"/>
<circle cx="278.84" cy="704.31" r="2.35" fill="#333333"/>
<circle cx="278.84" cy="706.23" r="2.35" fill="#333333"/>
<circle cx="278.84" cy="708.15" r="2.35" fill="#333333"/>
<circle cx="278.84" cy="710.07" r="2.35" fill="#333333"/>
<circle cx="278.84" cy="711.99" r="2.35" fill="#333333"/>
<circle cx="278.84" cy="713.91" r="2.35" fill="#333333"/>
<circle cx="278.84" cy="715.83" r="2.35" fill="#333333"/>
<circle cx="278.84" cy="717.75" r="2.35" fill="#333333"/>
<circle cx="278.84" cy="683.1" r="2.3" fill="#333333"/>
<rect x="273.74" y="728.1" width="10.2" height="7.50" fill="#00BFC4" stroke="#2a2a2a" stroke-width="1.05"/>
<line x1="273.74" y1="731.0" x2="283.94" y2="731.0" stroke="#1e1e1e" stroke-width="1.65"/>
<line x1="302.008" y1="756.9" x2="302.008" y2="759.60" stroke="#333" stroke-width="1.0"/>
<text x="302.01" y="768.10" font-size="9.1" fill="#4D4D4D" text-anchor="middle">L</text>
<line x1="296.91" y1="680.5" x2="296.91" y2="700.5" stroke="#333333" stroke-width="1.2"/>
<line x1="296.91" y1="715.5" x2="296.91" y2="735.5" stroke="#333333" stroke-width="1.2"/>
<circle cx="296.91" cy="662.75" r="2.35" fill="#333333"/>
<circle cx="296.91" cy="664.67" r="2.35" fill="#333333"/>
<circle cx="296.91" cy="666.60" r="2.35" fill="#333333"/>
<circle cx="296.91" cy="668.52" r="2.35" fill="#333333"/>
<circle cx="296.91" cy="670.45" r="2.35" fill="#333333"/>
<circle cx="296.91" cy="672.38" r="2.35" fill="#333333"/>
<circle cx="296.91" cy="674.30" r="2.35" fill="#333333"/>
<circle cx="296.91" cy="676.23" r="2.35" fill="#333333"/>
<circle cx="296.91" cy="678.15" r="2.35" fill="#333333"/>
<circle cx="296.91" cy="737.55" r="2.35" fill="#333333"/>
<circle cx="296.91" cy="739.60" r="2.35" fill="#333333"/>
<circle cx="296.91" cy="741.65" r="2.35" fill="#333333"/>
<circle cx="296.91" cy="657.7" r="2.3" fill="#333333"/>
<circle cx="296.91" cy="594.2" r="2.3" fill="#333333"/>
<rect x="291.81" y="700.5" width="10.2" height="15.00" fill="#F8766D" stroke="#2a2a2a" stroke-width="1.05"/>
<line x1="291.81" y1="708.6" x2="302.01" y2="708.6" stroke="#1e1e1e" stroke-width="1.65"/>
<line x1="307.11" y1="678.3" x2="307.11" y2="700.5" stroke="#333333" stroke-width="1.2"/>
<line x1="307.11" y1="716.1" x2="307.11" y2="738.0" stroke="#333333" stroke-width="1.2"/>
<circle cx="307.11" cy="660.75" r="2.35" fill="#333333"/>
<circle cx="307.11" cy="662.65" r="2.35" fill="#333333"/>
<circle cx="307.11" cy="664.55" r="2.35" fill="#333333"/>
<circle cx="307.11" cy="666.45" r="2.35" fill="#333333"/>
<circle cx="307.11" cy="668.35" r="2.35" fill="#333333"/>
<circle cx="307.11" cy="670.25" r="2.35" fill="#333333"/>
<circle cx="307.11" cy="672.15" r="2.35" fill="#333333"/>
<circle cx="307.11" cy="674.05" r="2.35" fill="#333333"/>
<circle cx="307.11" cy="675.95" r="2.35" fill="#333333"/>
<circle cx="307.11" cy="740.15" r="2.35" fill="#333333"/>
<circle cx="307.11" cy="741.05" r="2.35" fill="#333333"/>
<rect x="302.01" y="700.5" width="10.2" height="15.60" fill="#00BFC4" stroke="#2a2a2a" stroke-width="1.05"/>
<line x1="302.01" y1="708.8" x2="312.21" y2="708.8" stroke="#1e1e1e" stroke-width="1.65"/>
<line x1="330.28" y1="756.9" x2="330.28" y2="759.60" stroke="#333" stroke-width="1.0"/>
<text x="330.28" y="768.10" font-size="9.1" fill="#4D4D4D" text-anchor="middle">M</text>
<line x1="325.18" y1="728.1" x2="325.18" y2="732.7" stroke="#333333" stroke-width="1.2"/>
<line x1="325.18" y1="737.5" x2="325.18" y2="742.0" stroke="#333333" stroke-width="1.2"/>
<circle cx="325.18" cy="717.05" r="2.35" fill="#333333"/>
<circle cx="325.18" cy="718.79" r="2.35" fill="#333333"/>
<circle cx="325.18" cy="720.53" r="2.35" fill="#333333"/>
<circle cx="325.18" cy="722.27" r="2.35" fill="#333333"/>
<circle cx="325.18" cy="724.01" r="2.35" fill="#333333"/>
<circle cx="325.18" cy="725.75" r="2.35" fill="#333333"/>
<circle cx="325.18" cy="710.7" r="2.3" fill="#333333"/>
<circle cx="325.18" cy="705.9" r="2.3" fill="#333333"/>
<circle cx="325.18" cy="679.4" r="2.3" fill="#333333"/>
<circle cx="325.18" cy="563.4" r="2.3" fill="#333333"/>
<rect x="320.08" y="732.7" width="10.2" height="4.80" fill="#F8766D" stroke="#2a2a2a" stroke-width="1.05"/>
<line x1="320.08" y1="734.8" x2="330.28" y2="734.8" stroke="#1e1e1e" stroke-width="1.65"/>
<line x1="335.38" y1="728.1" x2="335.38" y2="732.7" stroke="#333333" stroke-width="1.2"/>
<line x1="335.38" y1="737.5" x2="335.38" y2="742.0" stroke="#333333" stroke-width="1.2"/>
<circle cx="335.38" cy="707.75" r="2.35" fill="#333333"/>
<circle cx="335.38" cy="709.75" r="2.35" fill="#333333"/>
<circle cx="335.38" cy="711.75" r="2.35" fill="#333333"/>
<circle cx="335.38" cy="713.75" r="2.35" fill="#333333"/>
<circle cx="335.38" cy="715.75" r="2.35" fill="#333333"/>
<circle cx="335.38" cy="717.75" r="2.35" fill="#333333"/>
<circle cx="335.38" cy="719.75" r="2.35" fill="#333333"/>
<circle cx="335.38" cy="721.75" r="2.35" fill="#333333"/>
<circle cx="335.38" cy="723.75" r="2.35" fill="#333333"/>
<circle cx="335.38" cy="725.75" r="2.35" fill="#333333"/>
<rect x="330.28" y="732.7" width="10.2" height="4.80" fill="#00BFC4" stroke="#2a2a2a" stroke-width="1.05"/>
<line x1="330.28" y1="734.8" x2="340.48" y2="734.8" stroke="#1e1e1e" stroke-width="1.65"/>
<line x1="358.55199999999996" y1="756.9" x2="358.55199999999996" y2="759.60" stroke="#333" stroke-width="1.0"/>
<text x="358.55" y="768.10" font-size="9.1" fill="#4D4D4D" text-anchor="middle">N</text>
<line x1="353.45" y1="724.1" x2="353.45" y2="731.6" stroke="#333333" stroke-width="1.2"/>
<line x1="353.45" y1="737.5" x2="353.45" y2="742.0" stroke="#333333" stroke-width="1.2"/>
<circle cx="353.45" cy="707.15" r="2.35" fill="#333333"/>
<circle cx="353.45" cy="708.98" r="2.35" fill="#333333"/>
<circle cx="353.45" cy="710.80" r="2.35" fill="#333333"/>
<circle cx="353.45" cy="712.62" r="2.35" fill="#333333"/>
<circle cx="353.45" cy="714.45" r="2.35" fill="#333333"/>
<circle cx="353.45" cy="716.27" r="2.35" fill="#333333"/>
<circle cx="353.45" cy="718.10" r="2.35" fill="#333333"/>
<circle cx="353.45" cy="719.92" r="2.35" fill="#333333"/>
<circle cx="353.45" cy="721.75" r="2.35" fill="#333333"/>
<rect x="348.35" y="731.6" width="10.2" height="5.90" fill="#F8766D" stroke="#2a2a2a" stroke-width="1.05"/>
<line x1="348.35" y1="734.5" x2="358.55" y2="734.5" stroke="#1e1e1e" stroke-width="1.65"/>
<line x1="363.65" y1="724.1" x2="363.65" y2="731.1" stroke="#333333" stroke-width="1.2"/>
<line x1="363.65" y1="737.5" x2="363.65" y2="742.0" stroke="#333333" stroke-width="1.2"/>
<circle cx="363.65" cy="713.05" r="2.35" fill="#333333"/>
<circle cx="363.65" cy="714.79" r="2.35" fill="#333333"/>
<circle cx="363.65" cy="716.53" r="2.35" fill="#333333"/>
<circle cx="363.65" cy="718.27" r="2.35" fill="#333333"/>
<circle cx="363.65" cy="720.01" r="2.35" fill="#333333"/>
<circle cx="363.65" cy="721.75" r="2.35" fill="#333333"/>
<circle cx="363.65" cy="705.4" r="2.3" fill="#333333"/>
<circle cx="363.65" cy="696.8" r="2.3" fill="#333333"/>
<rect x="358.55" y="731.1" width="10.2" height="6.40" fill="#00BFC4" stroke="#2a2a2a" stroke-width="1.05"/>
<line x1="358.55" y1="734.0" x2="368.75" y2="734.0" stroke="#1e1e1e" stroke-width="1.65"/>
<line x1="386.824" y1="756.9" x2="386.824" y2="759.60" stroke="#333" stroke-width="1.0"/>
<text x="386.82" y="768.10" font-size="9.1" fill="#4D4D4D" text-anchor="middle">P</text>
<line x1="381.72" y1="708.0" x2="381.72" y2="718.2" stroke="#333333" stroke-width="1.2"/>
<line x1="381.72" y1="726.3" x2="381.72" y2="736.2" stroke="#333333" stroke-width="1.2"/>
<circle cx="381.72" cy="691.65" r="2.35" fill="#333333"/>
<circle cx="381.72" cy="693.65" r="2.35" fill="#333333"/>
<circle cx="381.72" cy="695.65" r="2.35" fill="#333333"/>
<circle cx="381.72" cy="697.65" r="2.35" fill="#333333"/>
<circle cx="381.72" cy="699.65" r="2.35" fill="#333333"/>
<circle cx="381.72" cy="701.65" r="2.35" fill="#333333"/>
<circle cx="381.72" cy="703.65" r="2.35" fill="#333333"/>
<circle cx="381.72" cy="705.65" r="2.35" fill="#333333"/>
<circle cx="381.72" cy="738.55" r="2.35" fill="#333333"/>
<circle cx="381.72" cy="740.55" r="2.35" fill="#333333"/>
<circle cx="381.72" cy="742.55" r="2.35" fill="#333333"/>
<circle cx="381.72" cy="681.3" r="2.3" fill="#333333"/>
<circle cx="381.72" cy="670.0" r="2.3" fill="#333333"/>
<circle cx="381.72" cy="667.3" r="2.3" fill="#333333"/>
<circle cx="381.72" cy="647.8" r="2.3" fill="#333333"/>
<rect x="376.62" y="718.2" width="10.2" height="8.10" fill="#F8766D" stroke="#2a2a2a" stroke-width="1.05"/>
<line x1="376.62" y1="722.0" x2="386.82" y2="722.0" stroke="#1e1e1e" stroke-width="1.65"/>
<line x1="391.92" y1="708.0" x2="391.92" y2="718.2" stroke="#333333" stroke-width="1.2"/>
<line x1="391.92" y1="726.3" x2="391.92" y2="737.5" stroke="#333333" stroke-width="1.2"/>
<circle cx="391.92" cy="691.65" r="2.35" fill="#333333"/>
<circle cx="391.92" cy="693.65" r="2.35" fill="#333333"/>
<circle cx="391.92" cy="695.65" r="2.35" fill="#333333"/>
<circle cx="391.92" cy="697.65" r="2.35" fill="#333333"/>
<circle cx="391.92" cy="699.65" r="2.35" fill="#333333"/>
<circle cx="391.92" cy="701.65" r="2.35" fill="#333333"/>
<circle cx="391.92" cy="703.65" r="2.35" fill="#333333"/>
<circle cx="391.92" cy="705.65" r="2.35" fill="#333333"/>
<circle cx="391.92" cy="739.85" r="2.35" fill="#333333"/>
<circle cx="391.92" cy="742.55" r="2.35" fill="#333333"/>
<circle cx="391.92" cy="684.0" r="2.3" fill="#333333"/>
<circle cx="391.92" cy="680.0" r="2.3" fill="#333333"/>
<circle cx="391.92" cy="674.6" r="2.3" fill="#333333"/>
<circle cx="391.92" cy="667.3" r="2.3" fill="#333333"/>
<rect x="386.82" y="718.2" width="10.2" height="8.10" fill="#00BFC4" stroke="#2a2a2a" stroke-width="1.05"/>
<line x1="386.82" y1="722.0" x2="397.02" y2="722.0" stroke="#1e1e1e" stroke-width="1.65"/>
<line x1="415.096" y1="756.9" x2="415.096" y2="759.60" stroke="#333" stroke-width="1.0"/>
<text x="415.10" y="768.10" font-size="9.1" fill="#4D4D4D" text-anchor="middle">Q</text>
<line x1="410.00" y1="687.2" x2="410.00" y2="709.4" stroke="#333333" stroke-width="1.2"/>
<line x1="410.00" y1="726.0" x2="410.00" y2="742.3" stroke="#333333" stroke-width="1.2"/>
<circle cx="410.00" cy="660.85" r="2.35" fill="#333333"/>
<circle cx="410.00" cy="662.70" r="2.35" fill="#333333"/>
<circle cx="410.00" cy="664.54" r="2.35" fill="#333333"/>
<circle cx="410.00" cy="666.39" r="2.35" fill="#333333"/>
<circle cx="410.00" cy="668.23" r="2.35" fill="#333333"/>
<circle cx="410.00" cy="670.08" r="2.35" fill="#333333"/>
<circle cx="410.00" cy="671.93" r="2.35" fill="#333333"/>
<circle cx="410.00" cy="673.77" r="2.35" fill="#333333"/>
<circle cx="410.00" cy="675.62" r="2.35" fill="#333333"/>
<circle cx="410.00" cy="677.47" r="2.35" fill="#333333"/>
<circle cx="410.00" cy="679.31" r="2.35" fill="#333333"/>
<circle cx="410.00" cy="681.16" r="2.35" fill="#333333"/>
<circle cx="410.00" cy="683.00" r="2.35" fill="#333333"/>
<circle cx="410.00" cy="684.85" r="2.35" fill="#333333"/>
<circle cx="410.00" cy="653.1" r="2.3" fill="#333333"/>
<circle cx="410.00" cy="647.8" r="2.3" fill="#333333"/>
<circle cx="410.00" cy="635.7" r="2.3" fill="#333333"/>
<rect x="404.90" y="709.4" width="10.2" height="16.60" fill="#F8766D" stroke="#2a2a2a" stroke-width="1.05"/>
<line x1="404.90" y1="719.3" x2="415.10" y2="719.3" stroke="#1e1e1e" stroke-width="1.65"/>
<line x1="420.20" y1="681.3" x2="420.20" y2="707.5" stroke="#333333" stroke-width="1.2"/>
<line x1="420.20" y1="726.3" x2="420.20" y2="742.3" stroke="#333333" stroke-width="1.2"/>
<circle cx="420.20" cy="658.15" r="2.35" fill="#333333"/>
<circle cx="420.20" cy="660.04" r="2.35" fill="#333333"/>
<circle cx="420.20" cy="661.93" r="2.35" fill="#333333"/>
<circle cx="420.20" cy="663.82" r="2.35" fill="#333333"/>
<circle cx="420.20" cy="665.71" r="2.35" fill="#333333"/>
<circle cx="420.20" cy="667.60" r="2.35" fill="#333333"/>
<circle cx="420.20" cy="669.50" r="2.35" fill="#333333"/>
<circle cx="420.20" cy="671.39" r="2.35" fill="#333333"/>
<circle cx="420.20" cy="673.28" r="2.35" fill="#333333"/>
<circle cx="420.20" cy="675.17" r="2.35" fill="#333333"/>
<circle cx="420.20" cy="677.06" r="2.35" fill="#333333"/>
<circle cx="420.20" cy="678.95" r="2.35" fill="#333333"/>
<circle cx="420.20" cy="650.5" r="2.3" fill="#333333"/>
<circle cx="420.20" cy="643.8" r="2.3" fill="#333333"/>
<circle cx="420.20" cy="637.1" r="2.3" fill="#333333"/>
<rect x="415.10" y="707.5" width="10.2" height="18.80" fill="#00BFC4" stroke="#2a2a2a" stroke-width="1.05"/>
<line x1="415.10" y1="719.3" x2="425.30" y2="719.3" stroke="#1e1e1e" stroke-width="1.65"/>
<line x1="443.368" y1="756.9" x2="443.368" y2="759.60" stroke="#333" stroke-width="1.0"/>
<text x="443.37" y="768.10" font-size="9.1" fill="#4D4D4D" text-anchor="middle">R</text>
<line x1="438.27" y1="710.2" x2="438.27" y2="720.1" stroke="#333333" stroke-width="1.2"/>
<line x1="438.27" y1="727.3" x2="438.27" y2="737.5" stroke="#333333" stroke-width="1.2"/>
<circle cx="438.27" cy="691.65" r="2.35" fill="#333333"/>
<circle cx="438.27" cy="693.45" r="2.35" fill="#333333"/>
<circle cx="438.27" cy="695.25" r="2.35" fill="#333333"/>
<circle cx="438.27" cy="697.05" r="2.35" fill="#333333"/>
<circle cx="438.27" cy="698.85" r="2.35" fill="#333333"/>
<circle cx="438.27" cy="700.65" r="2.35" fill="#333333"/>
<circle cx="438.27" cy="702.45" r="2.35" fill="#333333"/>
<circle cx="438.27" cy="704.25" r="2.35" fill="#333333"/>
<circle cx="438.27" cy="706.05" r="2.35" fill="#333333"/>
<circle cx="438.27" cy="707.85" r="2.35" fill="#333333"/>
<circle cx="438.27" cy="739.85" r="2.35" fill="#333333"/>
<circle cx="438.27" cy="742.55" r="2.35" fill="#333333"/>
<circle cx="438.27" cy="681.3" r="2.3" fill="#333333"/>
<circle cx="438.27" cy="675.9" r="2.3" fill="#333333"/>
<circle cx="438.27" cy="634.4" r="2.3" fill="#333333"/>
<rect x="433.17" y="720.1" width="10.2" height="7.20" fill="#F8766D" stroke="#2a2a2a" stroke-width="1.05"/>
<line x1="433.17" y1="723.6" x2="443.37" y2="723.6" stroke="#1e1e1e" stroke-width="1.65"/>
<line x1="448.47" y1="710.2" x2="448.47" y2="720.1" stroke="#333333" stroke-width="1.2"/>
<line x1="448.47" y1="728.7" x2="448.47" y2="740.0" stroke="#333333" stroke-width="1.2"/>
<circle cx="448.47" cy="697.05" r="2.35" fill="#333333"/>
<circle cx="448.47" cy="698.85" r="2.35" fill="#333333"/>
<circle cx="448.47" cy="700.65" r="2.35" fill="#333333"/>
<circle cx="448.47" cy="702.45" r="2.35" fill="#333333"/>
<circle cx="448.47" cy="704.25" r="2.35" fill="#333333"/>
<circle cx="448.47" cy="706.05" r="2.35" fill="#333333"/>
<circle cx="448.47" cy="707.85" r="2.35" fill="#333333"/>
<circle cx="448.47" cy="740.75" r="2.35" fill="#333333"/>
<circle cx="448.47" cy="742.55" r="2.35" fill="#333333"/>
<circle cx="448.47" cy="688.0" r="2.3" fill="#333333"/>
<circle cx="448.47" cy="645.9" r="2.3" fill="#333333"/>
<rect x="443.37" y="720.1" width="10.2" height="8.60" fill="#00BFC4" stroke="#2a2a2a" stroke-width="1.05"/>
<line x1="443.37" y1="724.1" x2="453.57" y2="724.1" stroke="#1e1e1e" stroke-width="1.65"/>
<line x1="471.64" y1="756.9" x2="471.64" y2="759.60" stroke="#333" stroke-width="1.0"/>
<text x="471.64" y="768.10" font-size="9.1" fill="#4D4D4D" text-anchor="middle">S</text>
<line x1="466.54" y1="690.6" x2="466.54" y2="706.7" stroke="#333333" stroke-width="1.2"/>
<line x1="466.54" y1="719.3" x2="466.54" y2="737.5" stroke="#333333" stroke-width="1.2"/>
<circle cx="466.54" cy="662.15" r="2.35" fill="#333333"/>
<circle cx="466.54" cy="664.01" r="2.35" fill="#333333"/>
<circle cx="466.54" cy="665.88" r="2.35" fill="#333333"/>
<circle cx="466.54" cy="667.74" r="2.35" fill="#333333"/>
<circle cx="466.54" cy="669.61" r="2.35" fill="#333333"/>
<circle cx="466.54" cy="671.47" r="2.35" fill="#333333"/>
<circle cx="466.54" cy="673.34" r="2.35" fill="#333333"/>
<circle cx="466.54" cy="675.20" r="2.35" fill="#333333"/>
<circle cx="466.54" cy="677.06" r="2.35" fill="#333333"/>
<circle cx="466.54" cy="678.93" r="2.35" fill="#333333"/>
<circle cx="466.54" cy="680.79" r="2.35" fill="#333333"/>
<circle cx="466.54" cy="682.66" r="2.35" fill="#333333"/>
<circle cx="466.54" cy="684.52" r="2.35" fill="#333333"/>
<circle cx="466.54" cy="686.39" r="2.35" fill="#333333"/>
<circle cx="466.54" cy="688.25" r="2.35" fill="#333333"/>
<circle cx="466.54" cy="739.85" r="2.35" fill="#333333"/>
<circle cx="466.54" cy="742.55" r="2.35" fill="#333333"/>
<circle cx="466.54" cy="653.9" r="2.3" fill="#333333"/>
<circle cx="466.54" cy="619.1" r="2.3" fill="#333333"/>
<rect x="461.44" y="706.7" width="10.2" height="12.60" fill="#F8766D" stroke="#2a2a2a" stroke-width="1.05"/>
<line x1="461.44" y1="712.6" x2="471.64" y2="712.6" stroke="#1e1e1e" stroke-width="1.65"/>
<line x1="476.74" y1="689.3" x2="476.74" y2="704.8" stroke="#333333" stroke-width="1.2"/>
<line x1="476.74" y1="718.2" x2="476.74" y2="739.7" stroke="#333333" stroke-width="1.2"/>
<circle cx="476.74" cy="658.15" r="2.35" fill="#333333"/>
<circle cx="476.74" cy="660.07" r="2.35" fill="#333333"/>
<circle cx="476.74" cy="661.99" r="2.35" fill="#333333"/>
<circle cx="476.74" cy="663.91" r="2.35" fill="#333333"/>
<circle cx="476.74" cy="665.83" r="2.35" fill="#333333"/>
<circle cx="476.74" cy="667.75" r="2.35" fill="#333333"/>
<circle cx="476.74" cy="669.67" r="2.35" fill="#333333"/>
<circle cx="476.74" cy="671.59" r="2.35" fill="#333333"/>
<circle cx="476.74" cy="673.51" r="2.35" fill="#333333"/>
<circle cx="476.74" cy="675.43" r="2.35" fill="#333333"/>
<circle cx="476.74" cy="677.35" r="2.35" fill="#333333"/>
<circle cx="476.74" cy="679.27" r="2.35" fill="#333333"/>
<circle cx="476.74" cy="681.19" r="2.35" fill="#333333"/>
<circle cx="476.74" cy="683.11" r="2.35" fill="#333333"/>
<circle cx="476.74" cy="685.03" r="2.35" fill="#333333"/>
<circle cx="476.74" cy="686.95" r="2.35" fill="#333333"/>
<circle cx="476.74" cy="740.75" r="2.35" fill="#333333"/>
<circle cx="476.74" cy="742.55" r="2.35" fill="#333333"/>
<rect x="471.64" y="704.8" width="10.2" height="13.40" fill="#00BFC4" stroke="#2a2a2a" stroke-width="1.05"/>
<line x1="471.64" y1="711.5" x2="481.84" y2="711.5" stroke="#1e1e1e" stroke-width="1.65"/>
<line x1="499.912" y1="756.9" x2="499.912" y2="759.60" stroke="#333" stroke-width="1.0"/>
<text x="499.91" y="768.10" font-size="9.1" fill="#4D4D4D" text-anchor="middle">T</text>
<line x1="494.81" y1="712.5" x2="494.81" y2="722.0" stroke="#333333" stroke-width="1.2"/>
<line x1="494.81" y1="730.0" x2="494.81" y2="740.0" stroke="#333333" stroke-width="1.2"/>
<circle cx="494.81" cy="698.15" r="2.35" fill="#333333"/>
<circle cx="494.81" cy="700.15" r="2.35" fill="#333333"/>
<circle cx="494.81" cy="702.15" r="2.35" fill="#333333"/>
<circle cx="494.81" cy="704.15" r="2.35" fill="#333333"/>
<circle cx="494.81" cy="706.15" r="2.35" fill="#333333"/>
<circle cx="494.81" cy="708.15" r="2.35" fill="#333333"/>
<circle cx="494.81" cy="710.15" r="2.35" fill="#333333"/>
<circle cx="494.81" cy="742.3" r="2.3" fill="#333333"/>
<rect x="489.71" y="722.0" width="10.2" height="8.00" fill="#F8766D" stroke="#2a2a2a" stroke-width="1.05"/>
<line x1="489.71" y1="725.5" x2="499.91" y2="725.5" stroke="#1e1e1e" stroke-width="1.65"/>
<line x1="505.01" y1="713.0" x2="505.01" y2="722.8" stroke="#333333" stroke-width="1.2"/>
<line x1="505.01" y1="730.8" x2="505.01" y2="740.0" stroke="#333333" stroke-width="1.2"/>
<circle cx="505.01" cy="692.15" r="2.35" fill="#333333"/>
<circle cx="505.01" cy="694.00" r="2.35" fill="#333333"/>
<circle cx="505.01" cy="695.85" r="2.35" fill="#333333"/>
<circle cx="505.01" cy="697.70" r="2.35" fill="#333333"/>
<circle cx="505.01" cy="699.55" r="2.35" fill="#333333"/>
<circle cx="505.01" cy="701.40" r="2.35" fill="#333333"/>
<circle cx="505.01" cy="703.25" r="2.35" fill="#333333"/>
<circle cx="505.01" cy="705.10" r="2.35" fill="#333333"/>
<circle cx="505.01" cy="706.95" r="2.35" fill="#333333"/>
<circle cx="505.01" cy="708.80" r="2.35" fill="#333333"/>
<circle cx="505.01" cy="710.65" r="2.35" fill="#333333"/>
<circle cx="505.01" cy="688.3" r="2.3" fill="#333333"/>
<circle cx="505.01" cy="682.1" r="2.3" fill="#333333"/>
<circle cx="505.01" cy="742.3" r="2.3" fill="#333333"/>
<rect x="499.91" y="722.8" width="10.2" height="8.00" fill="#00BFC4" stroke="#2a2a2a" stroke-width="1.05"/>
<line x1="499.91" y1="726.8" x2="510.11" y2="726.8" stroke="#1e1e1e" stroke-width="1.65"/>
<line x1="528.184" y1="756.9" x2="528.184" y2="759.60" stroke="#333" stroke-width="1.0"/>
<text x="528.18" y="768.10" font-size="9.1" fill="#4D4D4D" text-anchor="middle">V</text>
<line x1="523.08" y1="704.5" x2="523.08" y2="716.1" stroke="#333333" stroke-width="1.2"/>
<line x1="523.08" y1="725.5" x2="523.08" y2="737.0" stroke="#333333" stroke-width="1.2"/>
<circle cx="523.08" cy="688.45" r="2.35" fill="#333333"/>
<circle cx="523.08" cy="690.41" r="2.35" fill="#333333"/>
<circle cx="523.08" cy="692.36" r="2.35" fill="#333333"/>
<circle cx="523.08" cy="694.32" r="2.35" fill="#333333"/>
<circle cx="523.08" cy="696.28" r="2.35" fill="#333333"/>
<circle cx="523.08" cy="698.24" r="2.35" fill="#333333"/>
<circle cx="523.08" cy="700.19" r="2.35" fill="#333333"/>
<circle cx="523.08" cy="702.15" r="2.35" fill="#333333"/>
<circle cx="523.08" cy="738.95" r="2.35" fill="#333333"/>
<circle cx="523.08" cy="740.75" r="2.35" fill="#333333"/>
<circle cx="523.08" cy="676.4" r="2.3" fill="#333333"/>
<circle cx="523.08" cy="659.0" r="2.3" fill="#333333"/>
<circle cx="523.08" cy="646.4" r="2.3" fill="#333333"/>
<circle cx="523.08" cy="594.2" r="2.3" fill="#333333"/>
<rect x="517.98" y="716.1" width="10.2" height="9.40" fill="#F8766D" stroke="#2a2a2a" stroke-width="1.05"/>
<line x1="517.98" y1="720.6" x2="528.18" y2="720.6" stroke="#1e1e1e" stroke-width="1.65"/>
<line x1="533.28" y1="704.5" x2="533.28" y2="716.6" stroke="#333333" stroke-width="1.2"/>
<line x1="533.28" y1="726.3" x2="533.28" y2="738.6" stroke="#333333" stroke-width="1.2"/>
<circle cx="533.28" cy="691.85" r="2.35" fill="#333333"/>
<circle cx="533.28" cy="693.91" r="2.35" fill="#333333"/>
<circle cx="533.28" cy="695.97" r="2.35" fill="#333333"/>
<circle cx="533.28" cy="698.03" r="2.35" fill="#333333"/>
<circle cx="533.28" cy="700.09" r="2.35" fill="#333333"/>
<circle cx="533.28" cy="702.15" r="2.35" fill="#333333"/>
<circle cx="533.28" cy="740.35" r="2.35" fill="#333333"/>
<circle cx="533.28" cy="742.55" r="2.35" fill="#333333"/>
<circle cx="533.28" cy="686.1" r="2.3" fill="#333333"/>
<circle cx="533.28" cy="673.8" r="2.3" fill="#333333"/>
<circle cx="533.28" cy="668.7" r="2.3" fill="#333333"/>
<rect x="528.18" y="716.6" width="10.2" height="9.70" fill="#00BFC4" stroke="#2a2a2a" stroke-width="1.05"/>
<line x1="528.18" y1="721.7" x2="538.38" y2="721.7" stroke="#1e1e1e" stroke-width="1.65"/>
<line x1="556.4559999999999" y1="756.9" x2="556.4559999999999" y2="759.60" stroke="#333" stroke-width="1.0"/>
<text x="556.46" y="768.10" font-size="9.1" fill="#4D4D4D" text-anchor="middle">W</text>
<line x1="551.36" y1="730.9" x2="551.36" y2="734.9" stroke="#333333" stroke-width="1.2"/>
<line x1="551.36" y1="740.0" x2="551.36" y2="742.2" stroke="#333333" stroke-width="1.2"/>
<circle cx="551.36" cy="717.85" r="2.35" fill="#333333"/>
<circle cx="551.36" cy="719.63" r="2.35" fill="#333333"/>
<circle cx="551.36" cy="721.42" r="2.35" fill="#333333"/>
<circle cx="551.36" cy="723.20" r="2.35" fill="#333333"/>
<circle cx="551.36" cy="724.98" r="2.35" fill="#333333"/>
<circle cx="551.36" cy="726.77" r="2.35" fill="#333333"/>
<circle cx="551.36" cy="728.55" r="2.35" fill="#333333"/>
<rect x="546.26" y="734.9" width="10.2" height="5.10" fill="#F8766D" stroke="#2a2a2a" stroke-width="1.05"/>
<line x1="546.26" y1="738.3" x2="556.46" y2="738.3" stroke="#1e1e1e" stroke-width="1.65"/>
<line x1="561.56" y1="731.5" x2="561.56" y2="734.9" stroke="#333333" stroke-width="1.2"/>
<line x1="561.56" y1="740.0" x2="561.56" y2="742.2" stroke="#333333" stroke-width="1.2"/>
<circle cx="561.56" cy="722.55" r="2.35" fill="#333333"/>
<circle cx="561.56" cy="724.75" r="2.35" fill="#333333"/>
<circle cx="561.56" cy="726.95" r="2.35" fill="#333333"/>
<circle cx="561.56" cy="729.15" r="2.35" fill="#333333"/>
<circle cx="561.56" cy="711.9" r="2.3" fill="#333333"/>
<circle cx="561.56" cy="662.5" r="2.3" fill="#333333"/>
<rect x="556.46" y="734.9" width="10.2" height="5.10" fill="#00BFC4" stroke="#2a2a2a" stroke-width="1.05"/>
<line x1="556.46" y1="738.3" x2="566.66" y2="738.3" stroke="#1e1e1e" stroke-width="1.65"/>
<line x1="584.7280000000001" y1="756.9" x2="584.7280000000001" y2="759.60" stroke="#333" stroke-width="1.0"/>
<text x="584.73" y="768.10" font-size="9.1" fill="#4D4D4D" text-anchor="middle">Y</text>
<line x1="579.63" y1="726.8" x2="579.63" y2="733.1" stroke="#333333" stroke-width="1.2"/>
<line x1="579.63" y1="739.6" x2="579.63" y2="742.2" stroke="#333333" stroke-width="1.2"/>
<circle cx="579.63" cy="720.45" r="2.35" fill="#333333"/>
<circle cx="579.63" cy="722.45" r="2.35" fill="#333333"/>
<circle cx="579.63" cy="724.45" r="2.35" fill="#333333"/>
<circle cx="579.63" cy="712.8" r="2.3" fill="#333333"/>
<rect x="574.53" y="733.1" width="10.2" height="6.50" fill="#F8766D" stroke="#2a2a2a" stroke-width="1.05"/>
<line x1="574.53" y1="736.5" x2="584.73" y2="736.5" stroke="#1e1e1e" stroke-width="1.65"/>
<line x1="589.83" y1="726.8" x2="589.83" y2="733.1" stroke="#333333" stroke-width="1.2"/>
<line x1="589.83" y1="739.6" x2="589.83" y2="742.2" stroke="#333333" stroke-width="1.2"/>
<circle cx="589.83" cy="717.45" r="2.35" fill="#333333"/>
<circle cx="589.83" cy="719.20" r="2.35" fill="#333333"/>
<circle cx="589.83" cy="720.95" r="2.35" fill="#333333"/>
<circle cx="589.83" cy="722.70" r="2.35" fill="#333333"/>
<circle cx="589.83" cy="724.45" r="2.35" fill="#333333"/>
<rect x="584.73" y="733.1" width="10.2" height="6.50" fill="#00BFC4" stroke="#2a2a2a" stroke-width="1.05"/>
<line x1="584.73" y1="736.3" x2="594.93" y2="736.3" stroke="#1e1e1e" stroke-width="1.65"/>
<path d="M181.8 573.9V566.0H195.9V573.9" fill="none" stroke="#000" stroke-width="1.6"/>
<circle cx="188.85" cy="559.30" r="1.45" fill="#111"/>
<path d="M210.1 628.2V621.0H224.0V628.2" fill="none" stroke="#000" stroke-width="1.6"/>
<circle cx="217.05" cy="614.50" r="1.45" fill="#111"/>
<path d="M436.7 617.0V609.2H450.9V617.0" fill="none" stroke="#000" stroke-width="1.6"/>
<circle cx="443.80" cy="601.90" r="1.45" fill="#111"/>
<path d="M464.8 614.8V606.8H479.0V614.8" fill="none" stroke="#000" stroke-width="1.6"/>
<circle cx="471.90" cy="600.60" r="1.45" fill="#111"/>
<text x="303.40" y="784.90" font-size="11.8" fill="#000" text-anchor="middle">Amino Acid</text>
<text x="618.40" y="583.70" font-size="10.5" fill="#000">Geno</text>
<rect x="618.1" y="589.9" width="17" height="33.5" fill="#F2F2F2"/>
<line x1="626.7" y1="591.90" x2="626.7" y2="605.30" stroke="#333333" stroke-width="0.9"/>
<rect x="620.0" y="594.2" width="13.4" height="8.80" fill="#F8766D" stroke="#333333" stroke-width="0.9"/>
<line x1="620.0" y1="598.60" x2="633.4" y2="598.60" stroke="#333333" stroke-width="1.5"/>
<text x="640.60" y="602.00" font-size="8.85" fill="#000">NREL</text>
<line x1="626.7" y1="609.10" x2="626.7" y2="622.20" stroke="#333333" stroke-width="0.9"/>
<rect x="620.0" y="611.4" width="13.4" height="8.50" fill="#00BFC4" stroke="#333333" stroke-width="0.9"/>
<line x1="620.0" y1="615.65" x2="633.4" y2="615.65" stroke="#333333" stroke-width="1.5"/>
<text x="640.60" y="618.90" font-size="8.85" fill="#000">UTEX393</text>
</svg>
</body></html>
